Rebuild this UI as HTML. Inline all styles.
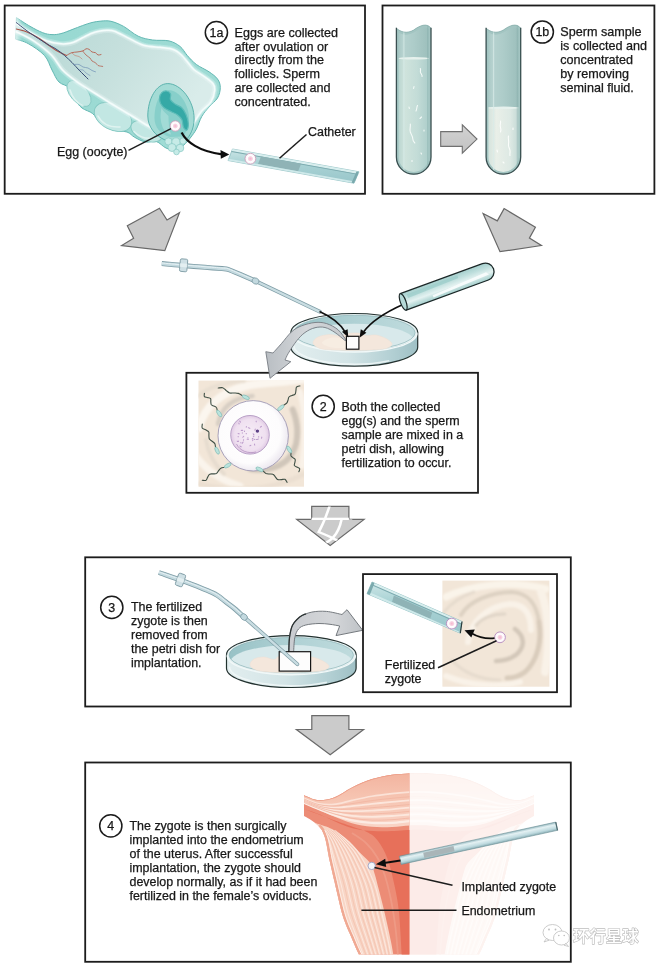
<!DOCTYPE html>
<html lang="en"><head><meta charset="utf-8"><title>In vitro fertilization</title>
<style>
html,body{margin:0;padding:0;background:#fff}
svg{display:block;font-size:12.45px}
text{font-family:"Liberation Sans","Noto Sans CJK SC",sans-serif;fill:#161616;stroke:#161616;stroke-width:0.250px}
</style></head><body>
<svg width="660" height="965" viewBox="0 0 660 965">
<defs><filter id="soft" filterUnits="userSpaceOnUse" x="0" y="0" width="660" height="965"><feGaussianBlur stdDeviation="0.350"/></filter></defs>
<rect width="660" height="965" fill="#fff"/>
<g filter="url(#soft)">
<!-- panel frames -->
<g fill="none" stroke="#1c1c1c" stroke-width="1.8">
<rect x="4.7" y="5.5" width="360.3" height="188.3"/>
<rect x="382.5" y="5.5" width="271.9" height="188.3"/>
<rect x="186.4" y="372.8" width="291.6" height="120"/>
<rect x="85.2" y="557.3" width="485.6" height="149.2"/>
<rect x="85.2" y="762.5" width="485.6" height="199.3"/>
</g>
<!-- panel 1a: ovary, egg, catheter -->
<defs>
<linearGradient id="ovFace" x1="0" y1="0" x2="1" y2="0.4">
<stop offset="0" stop-color="#b3d6d3"/><stop offset="0.55" stop-color="#c6e0dd"/><stop offset="1" stop-color="#d9ecea"/></linearGradient>
<linearGradient id="ovBand" x1="0" y1="0" x2="1" y2="0.5">
<stop offset="0" stop-color="#97d8d1"/><stop offset="1" stop-color="#9fdcd5"/></linearGradient>
<linearGradient id="cath" x1="0" y1="0" x2="0" y2="1">
<stop offset="0" stop-color="#cde6e7"/><stop offset="0.35" stop-color="#acd4d6"/><stop offset="1" stop-color="#98c6ca"/></linearGradient>
<radialGradient id="eggG" cx="0.5" cy="0.5" r="0.5"><stop offset="0" stop-color="#f4b4cd"/><stop offset="0.4" stop-color="#f9d9e6"/><stop offset="0.55" stop-color="#fff"/><stop offset="1" stop-color="#fbf0f6"/></radialGradient>
</defs>
<path d="M16.4,17.6C18.7,19.1 25.6,23.8 30,26.3C34.4,28.8 39,31.3 42.7,32.7C46.4,34.1 49,34.5 52,34.6C55,34.8 57.6,34.4 60.9,33.6C64.2,32.8 68.4,31 72,29.6C75.6,28.2 79.4,26.7 82.7,25.5C86,24.3 89,23.2 92,22.5C95,21.8 97.7,21.3 100.9,21.1C104.1,20.9 107.2,20.4 111,21.3C114.8,22.2 119.1,23.9 123.6,26.4C128.1,28.9 133.3,33.9 138.2,36.2C143,38.5 147.6,39.2 152.7,40C157.8,40.8 164.4,39.8 169,40.9C173.6,42 176.9,44 180,46.4C183.1,48.8 184.6,52.5 187.3,55.5C190,58.5 192.8,61.8 196.4,64.5C200,67.2 205.5,69.4 209,71.8C212.5,74.2 215.6,76.4 217.5,79C219.4,81.6 220.3,84.3 220.3,87.5C220.3,90.7 219.4,94.8 217.5,98C215.6,101.2 211.6,103.9 209,107C206.4,110.1 203.9,112.7 201.8,116.4C199.7,120.1 198.2,125.6 196.4,129C194.6,132.4 192.9,134.5 191,137C189.1,139.5 187.5,141.8 185,144C182.5,146.2 179.2,149.3 176,150C172.8,150.7 169.3,149.4 166,148C162.7,146.6 159.8,142.5 156.4,141.5C153,140.5 149.2,142.7 145.5,142C141.8,141.3 137.6,138.9 134.5,137.2C131.4,135.5 130.6,133.2 127,132C123.4,130.8 117.2,131.6 112.7,130C108.2,128.4 103.3,125.4 100,122.7C96.7,120 95.7,116 92.7,113.6C89.7,111.1 85,110.4 82,108C79,105.6 76.5,102.3 74.5,99C72.5,95.7 72.6,90.8 70,88C67.4,85.2 62,85 59,82C56,79 54.4,74.4 52,70C49.6,65.6 48.5,59.9 44.5,55.5C40.5,51.1 33,46.3 28.2,43.6C23.4,40.9 17.6,39.9 15.5,39.1Z" fill="url(#ovBand)" stroke="#62b7b2" stroke-width="1" stroke-linejoin="round"/>
<g fill="#c2e7e3" stroke="#84c8c2" stroke-width="0.900">
<ellipse cx="79" cy="93.500" rx="15.500" ry="8.500" transform="rotate(48 79 93.500)"/>
<ellipse cx="113" cy="117" rx="20" ry="12.800" transform="rotate(27 113 117)"/>
<ellipse cx="146.500" cy="131.300" rx="16.500" ry="9.300" transform="rotate(24 146.500 131.300)"/>
</g>
<g fill="none" stroke="#e9f7f5" stroke-width="1.600" opacity="0.750" stroke-linecap="round">
<path d="M98,116C102,124 110,127.500 120,127"/>
<path d="M134,131.500C139,137 147,139 154,138"/>
<path d="M70,90C72,97 77,103 83,106"/>
</g>
<path d="M16.4,23.6C18.3,24.8 24.2,28.7 28,31C31.8,33.3 35.5,35.5 39,37.3C42.5,39 45.7,40.5 49,41.5C52.3,42.5 56.2,43.2 59,43.6C61.8,44 63.6,44 66,43.8C68.4,43.6 70.9,43.2 73.6,42.2C76.3,41.2 79,39.5 82,38C85,36.5 88.8,34.5 91.8,33.3C94.8,32.1 97.5,31.5 100,31C102.5,30.5 104.6,30.3 107,30.3C109.4,30.3 111.2,30 114.5,31.2C117.8,32.4 122.2,34.9 127,37.3C131.8,39.6 138.1,43.6 143.6,45.3C149.1,47 155.6,46.8 160,47.3C164.4,47.8 167.3,47.9 170,48.5C172.7,49.1 174.5,49.9 176.4,51C178.3,52.1 180,53.6 181.5,55C183,56.4 184.1,57.8 185.5,59.5C186.9,61.2 188.5,63.2 190,65C191.5,66.8 191.9,68 194.5,70C197.1,72 202.4,75 205.5,77.3C208.6,79.5 211.4,81.4 213,83.5C214.6,85.6 215.1,87 214.8,90C214.5,93 213.2,98.3 211,101.8C208.8,105.3 204.6,107.7 201.8,111C199.1,114.3 196.5,118.5 194.5,121.8C192.5,125.1 193.8,128.1 190,131C186.2,133.9 177.6,139.1 172,139C166.4,138.9 160.8,132.9 156.4,130.5C152,128.1 149.7,127 145.5,124.5C141.3,122 136.5,118.8 131,115.5C125.5,112.2 118.8,108.2 112.7,104.5C106.6,100.8 100.5,96.8 94.5,93C88.5,89.2 82.3,85.6 77,81.8C71.7,78 66.7,74.4 62.5,70C58.3,65.6 56.6,60.4 51.8,55.5C47,50.6 39.5,44.9 33.6,40.9C27.7,36.9 19.3,33.3 16.4,31.8Z" fill="url(#ovFace)"/>
<path d="M16.4,23.6C18.3,24.8 24.2,28.7 28,31C31.8,33.3 35.5,35.5 39,37.3C42.5,39 45.7,40.5 49,41.5C52.3,42.5 56.2,43.2 59,43.6C61.8,44 63.6,44 66,43.8C68.4,43.6 70.9,43.2 73.6,42.2C76.3,41.2 79,39.5 82,38C85,36.5 88.8,34.5 91.8,33.3C94.8,32.1 97.5,31.5 100,31C102.5,30.5 104.6,30.3 107,30.3C109.4,30.3 111.2,30 114.5,31.2C117.8,32.4 122.2,34.9 127,37.3C131.8,39.6 138.1,43.6 143.6,45.3C149.1,47 155.6,46.8 160,47.3C164.4,47.8 167.3,47.9 170,48.5C172.7,49.1 174.5,49.9 176.4,51C178.3,52.1 180,53.6 181.5,55C183,56.4 184.1,57.8 185.5,59.5C186.9,61.2 188.5,63.2 190,65C191.5,66.8 191.9,68 194.5,70C197.1,72 202.4,75 205.5,77.3C208.6,79.5 211.4,81.4 213,83.5C214.6,85.6 215.1,87 214.8,90C214.5,93 213.2,98.3 211,101.8C208.8,105.3 204.6,107.7 201.8,111C199.1,114.3 196.5,118.5 194.5,121.8C192.5,125.1 190.8,129.5 190,131" fill="none" stroke="#f2fbfa" stroke-width="5.500" stroke-linecap="round" opacity="0.280"/>
<path d="M16.4,23.6C18.3,24.8 24.2,28.7 28,31C31.8,33.3 35.5,35.5 39,37.3C42.5,39 45.7,40.5 49,41.5C52.3,42.5 56.2,43.2 59,43.6C61.8,44 63.6,44 66,43.8C68.4,43.6 70.9,43.2 73.6,42.2C76.3,41.2 79,39.5 82,38C85,36.5 88.8,34.5 91.8,33.3C94.8,32.1 97.5,31.5 100,31C102.5,30.5 104.6,30.3 107,30.3C109.4,30.3 111.2,30 114.5,31.2C117.8,32.4 122.2,34.9 127,37.3C131.8,39.6 138.1,43.6 143.6,45.3C149.1,47 155.6,46.8 160,47.3C164.4,47.8 167.3,47.9 170,48.5C172.7,49.1 174.5,49.9 176.4,51C178.3,52.1 180,53.6 181.5,55C183,56.4 184.1,57.8 185.5,59.5C186.9,61.2 188.5,63.2 190,65C191.5,66.8 191.9,68 194.5,70C197.1,72 202.4,75 205.5,77.3C208.6,79.5 211.4,81.4 213,83.5C214.6,85.6 215.1,87 214.8,90C214.5,93 213.2,98.3 211,101.8C208.8,105.3 204.6,107.7 201.8,111C199.1,114.3 196.5,118.5 194.5,121.8C192.5,125.1 190.8,129.5 190,131" fill="none" stroke="#f2fbfa" stroke-width="3" stroke-linecap="round" opacity="0.400"/>
<path d="M16.4,23.6C18.3,24.8 24.2,28.7 28,31C31.8,33.3 35.5,35.5 39,37.3C42.5,39 45.7,40.5 49,41.5C52.3,42.5 56.2,43.2 59,43.6C61.8,44 63.6,44 66,43.8C68.4,43.6 70.9,43.2 73.6,42.2C76.3,41.2 79,39.5 82,38C85,36.5 88.8,34.5 91.8,33.3C94.8,32.1 97.5,31.5 100,31C102.5,30.5 104.6,30.3 107,30.3C109.4,30.3 111.2,30 114.5,31.2C117.8,32.4 122.2,34.9 127,37.3C131.8,39.6 138.1,43.6 143.6,45.3C149.1,47 155.6,46.8 160,47.3C164.4,47.8 167.3,47.9 170,48.5C172.7,49.1 174.5,49.9 176.4,51C178.3,52.1 180,53.6 181.5,55C183,56.4 184.1,57.8 185.5,59.5C186.9,61.2 188.5,63.2 190,65C191.5,66.8 191.9,68 194.5,70C197.1,72 202.4,75 205.5,77.3C208.6,79.5 211.4,81.4 213,83.5C214.6,85.6 215.1,87 214.8,90C214.5,93 213.2,98.3 211,101.8C208.8,105.3 204.6,107.7 201.8,111C199.1,114.3 196.5,118.5 194.5,121.8C192.5,125.1 190.8,129.5 190,131" fill="none" stroke="#f4fcfb" stroke-width="1.500" stroke-linecap="round"/>
<path d="M172,139C169.4,137.6 160.8,132.9 156.4,130.5C152,128.1 149.7,127 145.5,124.5C141.3,122 136.5,118.8 131,115.5C125.5,112.2 118.8,108.2 112.7,104.5C106.6,100.8 100.5,96.8 94.5,93C88.5,89.2 82.3,85.6 77,81.8C71.7,78 66.7,74.4 62.5,70C58.3,65.6 56.6,60.4 51.8,55.5C47,50.6 39.5,44.9 33.6,40.9C27.7,36.9 19.3,33.3 16.4,31.8" fill="none" stroke="#f2fbfa" stroke-width="5.500" stroke-linecap="round" opacity="0.280"/>
<path d="M172,139C169.4,137.6 160.8,132.9 156.4,130.5C152,128.1 149.7,127 145.5,124.5C141.3,122 136.5,118.8 131,115.5C125.5,112.2 118.8,108.2 112.7,104.5C106.6,100.8 100.5,96.8 94.5,93C88.5,89.2 82.3,85.6 77,81.8C71.7,78 66.7,74.4 62.5,70C58.3,65.6 56.6,60.4 51.8,55.5C47,50.6 39.5,44.9 33.6,40.9C27.7,36.9 19.3,33.3 16.4,31.8" fill="none" stroke="#f2fbfa" stroke-width="3" stroke-linecap="round" opacity="0.400"/>
<path d="M172,139C169.4,137.6 160.8,132.9 156.4,130.5C152,128.1 149.7,127 145.5,124.5C141.3,122 136.5,118.8 131,115.5C125.5,112.2 118.8,108.2 112.7,104.5C106.6,100.8 100.5,96.8 94.5,93C88.5,89.2 82.3,85.6 77,81.8C71.7,78 66.7,74.4 62.5,70C58.3,65.6 56.6,60.4 51.8,55.5C47,50.6 39.5,44.9 33.6,40.9C27.7,36.9 19.3,33.3 16.4,31.8" fill="none" stroke="#f4fcfb" stroke-width="1.500" stroke-linecap="round"/>
<linearGradient id="stalkFade" x1="0" y1="0" x2="1" y2="0"><stop offset="0" stop-color="#fff" stop-opacity="0.9"/><stop offset="1" stop-color="#fff" stop-opacity="0"/></linearGradient>
<rect x="13" y="14" width="9" height="30" fill="url(#stalkFade)"/>
<g fill="none" stroke-linecap="round" stroke-linejoin="round">
<path d="M16.4,29C18.2,29.5 23.5,30.6 27,32C30.5,33.4 34,35.3 37.3,37.3C40.6,39.3 43.7,41.7 47,44C50.3,46.3 54.1,49.1 57.3,51C60.5,52.9 64.9,54.8 66.4,55.5" stroke="#a9554a" stroke-width="1.2"/>
<path d="M66.4,55.5C67.3,55 70,53.3 71.8,52.7C73.6,52.1 75.2,52.3 77,52C78.8,51.7 81.2,51.5 82.7,51C84.2,50.5 85,49.1 86,48.8C87,48.5 88,48.8 89,49.3C90,49.8 90.9,51.4 92,52C93.1,52.6 94.5,52.2 95.5,52.7C96.5,53.2 97.1,54.7 98,55C98.9,55.3 100.5,54.6 101,54.5" stroke="#b5604f" stroke-width="0.9"/>
<path d="M82.7,51C83.2,51.7 84.8,53.8 86,55C87.2,56.2 89,57 90,58C91,59 91.1,60.2 92,61C92.9,61.8 94.5,62 95.5,62.7C96.5,63.5 96.8,64.9 98,65.5C99.2,66.1 101.9,66.2 102.7,66.4" stroke="#b5604f" stroke-width="0.8"/>
<path d="M71.8,52.7C72.3,53.2 73.8,54.9 75,55.5C76.2,56.1 77.8,55.9 79,56.5C80.2,57.1 81.5,58.6 82,59" stroke="#c27a68" stroke-width="0.6"/>
<path d="M16.4,22.7C18.7,24.4 25,29.5 30,33C35,36.5 42.1,40.9 46.4,43.6C50.7,46.3 53,47 56,49C59,51 61.8,53.2 64.5,55.5C67.2,57.8 69.6,60.1 72,62.5C74.4,64.9 77,67.9 79,70C81,72.1 82.5,73.5 84,75C85.5,76.5 87.3,78.3 88,79" stroke="#364a72" stroke-width="1"/>
<path d="M74,64.5C74.8,64.5 77.5,64.1 79,64.5C80.5,64.9 81.5,66.4 83,67C84.5,67.6 86.5,67.4 88,68C89.5,68.6 90.8,69.9 92,70.5C93.2,71.1 94.9,71.6 95.5,71.8" stroke="#6f8fb5" stroke-width="0.7"/>
<path d="M79,70C79.7,70 81.8,69.5 83,70C84.2,70.5 84.8,72.1 86,73C87.2,73.9 89.3,75.1 90,75.5" stroke="#6f8fb5" stroke-width="0.6"/>
</g>
<path d="M147.800,116C147.800,99 156.300,83.600 167.800,83.600C181,83.600 194.300,101 194.100,119C194,129 190,136 185.500,140.500L178,143L165,140C155,135.500 147.900,127 147.800,116Z" fill="#a3dbd5" stroke="#5cb3ae" stroke-width="1"/>
<path d="M154.5,118C154.5,103 160.5,90 168.5,90C179,90 189,104 189,119C189,127 186,133 182.5,136.5L170,137C160,134 154.5,127 154.5,118Z" fill="#7ecbc5" opacity="0.75"/>
<path d="M161.8,92.7C162.9,91.6 164.9,90.8 166.4,91C167.9,91.2 169.9,92.6 170.6,94C171.3,95.4 169.6,97.8 170.4,99.5C171.2,101.2 173.7,103 175.5,104.3C177.3,105.6 179.8,105.8 181.5,107.5C183.2,109.2 184.9,111.8 186,114.5C187.1,117.2 188.2,120.9 188.3,123.5C188.4,126.1 187.6,129.4 186.8,130C186,130.6 184.2,128.8 183.4,127C182.6,125.2 182.9,121.6 181.8,119.5C180.7,117.4 178.8,115.8 177,114.5C175.2,113.2 173,112.5 171,111.5C169,110.5 166.5,109.6 164.8,108.3C163.1,107 161.5,105.3 160.6,103.5C159.7,101.7 159.4,99.3 159.6,97.5C159.8,95.7 160.7,93.8 161.8,92.7Z" fill="#35a9a6" stroke="#5dbcb8" stroke-width="1.2"/>
<path d="M161.5,108C160,114 160,121 162.500,127C164,131 168,134 171,134.500C169,129 168.500,122 168.500,116C166,113.500 163,111 161.500,108Z" fill="#a9ddd8" opacity="0.8"/>
<g fill="#c6ebe7" stroke="#8fcdc8" stroke-width="0.8">
<circle cx="168.5" cy="141.5" r="3.6"/>
<circle cx="176" cy="142" r="4.2"/>
<circle cx="183" cy="141" r="3.2"/>
<circle cx="172" cy="147.5" r="4"/>
<circle cx="180" cy="148" r="3.8"/>
<circle cx="176.5" cy="152" r="2.8"/>
</g>
<circle cx="175.3" cy="126" r="5.2" fill="url(#eggG)" stroke="#c79ab6" stroke-width="0.8"/>
<path d="M128.5,150.300L171,128.700" stroke="#1c1c1c" stroke-width="1.500" fill="none"/>
<text x="57" y="155.500">Egg (oocyte)</text>
<path d="M181.600,132.500C186.500,142 199,151.500 222,154.300" stroke="#111" stroke-width="2.2" fill="none"/>
<polygon points="229.300,154.600 220.500,150 220.800,158.700" fill="#111"/>
<polygon points="232.500,149 359,171.800 354,183.200 228,160.500" fill="url(#cath)" stroke="#7fb4b8" stroke-width="0.700"/>
<polygon points="232.500,149 359,171.800 358.200,173.900 231.700,151.100" fill="#d8eeee"/>
<polygon points="231.700,151.100 358.200,173.900 357.900,174.800 231.400,152" fill="#7ba9ae"/>
<polygon points="261,156.600 301.100,163.800 298.100,171.300 258,164" fill="#8fb3b6"/>
<polygon points="228.700,158.700 355,181.500 354,183.200 228,160.500" fill="#cfe9ea"/>
<polygon points="356.500,171.400 359,171.800 354,183.200 351.500,182.800" fill="#7aa9ad"/>
<circle cx="250.400" cy="158.700" r="5.400" fill="url(#eggG)" stroke="#c79ab6" stroke-width="0.8"/>
<path d="M306.500,134.500L279.500,158.300" stroke="#1c1c1c" stroke-width="1.500" fill="none"/>
<text x="308" y="136.300">Catheter</text>
<circle cx="216.4" cy="32.6" r="11.1" fill="#fff" stroke="#1a1a1a" stroke-width="1.5"/><text x="216.4" y="37" text-anchor="middle">1a</text>
<g style="font-size:12.600px">
<text x="234.5" y="36.8">Eggs are collected</text>
<text x="234.5" y="50.5">after ovulation or</text>
<text x="234.5" y="64.3">directly from the</text>
<text x="234.5" y="78">follicles. Sperm</text>
<text x="234.5" y="91.8">are collected and</text>
<text x="234.5" y="105.5">concentrated.</text>
</g>
<!-- panel 1b: sperm sample tubes -->
<defs>
<linearGradient id="tubeG" x1="0" y1="0" x2="1" y2="0">
<stop offset="0" stop-color="#a1c2bf"/><stop offset="0.18" stop-color="#b6d2cf"/><stop offset="0.5" stop-color="#adccc9"/><stop offset="1" stop-color="#9abdba"/></linearGradient>
<linearGradient id="liq1" x1="0" y1="0" x2="1" y2="0">
<stop offset="0" stop-color="#b4d2cd"/><stop offset="0.25" stop-color="#cfe3dc"/><stop offset="0.6" stop-color="#c3dcd7"/><stop offset="1" stop-color="#a9cbc8"/></linearGradient>
<linearGradient id="liq2" x1="0" y1="0" x2="1" y2="0">
<stop offset="0" stop-color="#cfe0da"/><stop offset="0.3" stop-color="#e9efe8"/><stop offset="0.7" stop-color="#dde9e4"/><stop offset="1" stop-color="#bdd5d1"/></linearGradient>
<linearGradient id="arrG" x1="0" y1="0" x2="0" y2="1"><stop offset="0" stop-color="#d2d2d2"/><stop offset="1" stop-color="#c2c2c2"/></linearGradient>
</defs>
<clipPath id="t1"><path d="M396.4,28.200C400.6,32 406.8,34 413.7,30C419.9,25.500 426.8,22.500 431,28.200L431,156.9A17.3,17.3 0 0 1 396.4,156.9Z"/></clipPath><path d="M396.4,28.200C400.6,32 406.8,34 413.7,30C419.9,25.500 426.8,22.500 431,28.200L431,156.9A17.3,17.3 0 0 1 396.4,156.9Z" fill="url(#tubeG)"/><g clip-path="url(#t1)"><rect x="396.4" y="57.8" width="34.6" height="122.2" fill="url(#liq1)"/><ellipse cx="413.7" cy="58.3" rx="15.8" ry="1.300" fill="#e6f1ed"/><path d="M396.4,28.200C400.6,32 406.8,34 413.7,30C419.9,25.500 426.8,22.500 431,28.200L431,156.9A17.3,17.3 0 0 1 396.4,156.9Z" fill="none" stroke="#a3c5c2" stroke-width="4.600"/><rect x="403.3" y="24" width="1.200" height="150" fill="#d9ebe8" opacity="0.7"/><rect x="427" y="24" width="1.500" height="150" fill="#7fa9a7" opacity="0.35"/></g><path d="M396.4,28.200C400.6,32 406.8,34 413.7,30C419.9,25.500 426.8,22.500 431,28.200" fill="none" stroke="#86aeab" stroke-width="0.700"/><path d="M396.4,27.800L396.4,156.9A17.3,17.3 0 0 0 431,156.9L431,27.800" fill="none" stroke="#3a5051" stroke-width="1.300"/>
<clipPath id="t2"><path d="M486.1,28.200C490.3,32 496.5,34 503.4,30C509.6,25.500 516.5,22.500 520.7,28.200L520.7,156.9A17.3,17.3 0 0 1 486.1,156.9Z"/></clipPath><path d="M486.1,28.200C490.3,32 496.5,34 503.4,30C509.6,25.500 516.5,22.500 520.7,28.200L520.7,156.9A17.3,17.3 0 0 1 486.1,156.9Z" fill="url(#tubeG)"/><g clip-path="url(#t2)"><rect x="486.1" y="107.3" width="34.6" height="72.7" fill="url(#liq2)"/><ellipse cx="503.4" cy="107.8" rx="15.8" ry="1.300" fill="#e6f1ed"/><path d="M486.1,28.200C490.3,32 496.5,34 503.4,30C509.6,25.500 516.5,22.500 520.7,28.200L520.7,156.9A17.3,17.3 0 0 1 486.1,156.9Z" fill="none" stroke="#a3c5c2" stroke-width="4.600"/><rect x="493" y="24" width="1.200" height="150" fill="#d9ebe8" opacity="0.7"/><rect x="516.7" y="24" width="1.500" height="150" fill="#7fa9a7" opacity="0.35"/></g><path d="M486.1,28.200C490.3,32 496.5,34 503.4,30C509.6,25.500 516.5,22.500 520.7,28.200" fill="none" stroke="#86aeab" stroke-width="0.700"/><path d="M486.1,27.800L486.1,156.9A17.3,17.3 0 0 0 520.7,156.9L520.7,27.800" fill="none" stroke="#3a5051" stroke-width="1.300"/>
<g fill="none" stroke="#f4faf8" stroke-width="1.100" stroke-linecap="round">
<path d="M420.300,68.500c0.800,1.500 -0.600,3 0.400,4.500c0.800,1.300 1.600,2 1.400,3.500"/>
<path d="M414,86.500l-0.400,2"/><path d="M409,107l0.300,1.500"/><path d="M417.500,105.500c-1,2 -0.500,3.500 -1.500,5.500"/>
<path d="M410.300,124c0.500,3 -1,5 0,8c0.800,2.500 2.500,4 2.500,7c0,2 1,3 2,4"/>
<path d="M420,118.500l1.500,-1.500"/><path d="M424,130l0,1"/><path d="M412,160.500l0,1"/><path d="M421,153l0.500,1"/>
</g>
<g fill="none" stroke="#fbfdfb" stroke-width="1.100" stroke-linecap="round">
<path d="M500.500,121c0.500,2.500 -1,4 0,6.500c0.600,1.600 0.500,3 0,4.500"/>
<path d="M508.500,136c-0.800,3 0.800,5 0,8c-0.600,2.500 1,4 1.500,6.500c0.400,2 -0.500,3.500 0,5"/>
<path d="M497,150l0.500,2"/><path d="M513,128l0,1.500"/><path d="M503,162l1,1"/>
</g>
<polygon points="440.700,131.600 462.300,131.600 462.300,124.800 477,139.100 462.300,153.200 462.300,146.400 440.700,146.400" fill="url(#arrG)" stroke="#6f6f6f" stroke-width="1.100" stroke-linejoin="miter"/>
<circle cx="542.3" cy="32" r="11.1" fill="#fff" stroke="#1a1a1a" stroke-width="1.5"/><text x="542.3" y="36.4" text-anchor="middle">1b</text>
<g style="font-size:12.600px">
<text x="560.3" y="36.1">Sperm sample</text>
<text x="560.3" y="50.2">is collected and</text>
<text x="560.3" y="64.2">concentrated</text>
<text x="560.3" y="78.2">by removing</text>
<text x="560.3" y="92.3">seminal fluid.</text>
</g>
<!-- middle: arrows, pipette, sperm tube, petri dish -->
<polygon points="159.500,208.200 167,220 179.500,212.700 164.800,250.700 121.600,245.500 133.600,238.200 127.300,225.700" fill="#c9c9c9" stroke="#686868" stroke-width="1.200" stroke-linejoin="miter"/>
<polygon points="483.100,213.500 497.300,220.900 504.100,208.600 535.400,227.200 529.400,238.100 541.400,245.500 500,251.700" fill="#c9c9c9" stroke="#686868" stroke-width="1.200" stroke-linejoin="miter"/>
<defs><linearGradient id="d1W" x1="0" y1="0" x2="1" y2="0"><stop offset="0" stop-color="#e2eeef"/><stop offset="0.450" stop-color="#d3e4e6"/><stop offset="0.800" stop-color="#b2cfd3"/><stop offset="1" stop-color="#9fc0c5"/></linearGradient>
<linearGradient id="d1I" x1="0" y1="0" x2="1" y2="0"><stop offset="0" stop-color="#98c2c6"/><stop offset="0.500" stop-color="#afd1d4"/><stop offset="1" stop-color="#bfdbdd"/></linearGradient>
<clipPath id="d1C"><ellipse cx="354.3" cy="332.7" rx="60.8" ry="17.4"/></clipPath></defs><path d="M290.9,332.4L290.9,347.2A63.4,18.9 0 0 0 417.7,347.2L417.7,332.4Z" fill="url(#d1W)" stroke="#22302f" stroke-width="1.200" stroke-linejoin="round"/><path d="M293.9,345.7A60.4,18.4 0 0 0 389.2,360.8" fill="none" stroke="#f3f9f9" stroke-width="1.600" opacity="0.800"/><ellipse cx="354.3" cy="332.4" rx="63.4" ry="18.9" fill="#e6f1f2"/><path d="M290.9,332.4A63.4,18.9 0 0 1 417.7,332.4" fill="none" stroke="#22302f" stroke-width="1.200"/><path d="M291.7,333.4A62.6,18.6 0 0 0 416.9,333.4" fill="none" stroke="#f1f8f8" stroke-width="1.400"/><ellipse cx="354.3" cy="332.7" rx="60.8" ry="17.4" fill="url(#d1I)"/><ellipse cx="354.3" cy="341.6" rx="60.4" ry="17.9" fill="#d8e9eb" clip-path="url(#d1C)"/><ellipse cx="354.3" cy="332.7" rx="60.8" ry="17.4" fill="none" stroke="#88b0b4" stroke-width="0.600"/>
<path d="M313,343C312.7,341.1 315.2,338.4 318,337C320.8,335.6 326.3,334.7 330,334.5C333.7,334.3 337.2,336.2 340,336C342.8,335.8 344,334 347,333.5C350,333 354.8,332.7 358,333C361.2,333.3 363,335.2 366,335.5C369,335.8 372.7,334.5 376,335C379.3,335.5 383.3,337 386,338.5C388.7,340 392,342.3 392,344C392,345.7 389.7,347.5 386,348.5C382.3,349.5 375.7,349.7 370,350C364.3,350.3 358,350.5 352,350.5C346,350.5 339.3,350.3 334,350C328.7,349.7 323.5,349.7 320,348.5C316.5,347.3 313.3,344.9 313,343Z" fill="#f4e7dc" stroke="#efdfd2" stroke-width="0.500"/>
<path d="M322,343C321.7,341.4 326.7,338.8 330,338C333.3,337.2 338.7,337.8 342,338.5C345.3,339.2 349.3,340.5 350,342C350.7,343.5 349,346.6 346,347.5C343,348.4 336,348.2 332,347.5C328,346.8 322.3,344.6 322,343Z" fill="#f7ede2"/>
<defs><linearGradient id="cArr" x1="0" y1="0" x2="1" y2="0"><stop offset="0" stop-color="#b9bec3"/><stop offset="0.5" stop-color="#d4d7da"/><stop offset="1" stop-color="#c3c7cb"/></linearGradient></defs>
<path d="M346.7,340.8C345.3,339 341.6,332.9 338.3,330C335,327.1 330.6,324.9 326.7,323.6C322.8,322.4 319.2,322.1 315,322.5C310.8,322.9 305.6,324.3 301.7,325.8C297.8,327.3 295,328.8 291.7,331.7C288.4,334.6 284.8,339.8 281.7,343.3C278.6,346.9 274.4,351.4 273,353L265.800,351.700L270,378.300L290.800,361.700L285,360C285.6,358.9 286.4,356.5 288.3,353.3C290.2,350.1 293.9,344.3 296.7,340.8C299.5,337.3 301.9,334.7 305,332.5C308.1,330.3 311.7,328.5 315,327.7C318.3,326.9 321.7,326.7 325,327.5C328.3,328.3 331.7,330.3 335,332.5C338.3,334.7 343.3,339.2 345,340.5Z" fill="url(#cArr)" stroke="#767c82" stroke-width="0.900" stroke-linejoin="round"/>
<rect x="346.400" y="336.300" width="12.500" height="12.900" fill="#fdfdfd" stroke="#161616" stroke-width="1.200"/>
<path d="M161.8,263.6C164.3,263.8 178,265.2 183,265.6C188,266 200.4,266.9 205,267.3C209.6,267.7 219.3,268.4 222,268.6C224.7,268.8 225.9,268.6 228,269.3C230.1,270 236.8,272.9 240,274.3C243.2,275.7 253.7,280.2 255.5,281" fill="none" stroke="#7f9da6" stroke-width="5" stroke-linecap="butt" stroke-linejoin="round"/><path d="M161.8,263.6C164.3,263.8 178,265.2 183,265.6C188,266 200.4,266.9 205,267.3C209.6,267.7 219.3,268.4 222,268.6C224.7,268.8 225.9,268.6 228,269.3C230.1,270 236.8,272.9 240,274.3C243.2,275.7 253.7,280.2 255.5,281" fill="none" stroke="#c3d9df" stroke-width="3.400" stroke-linecap="butt" stroke-linejoin="round"/><path d="M161.8,263.6C164.3,263.8 178,265.2 183,265.6C188,266 200.4,266.9 205,267.3C209.6,267.7 219.3,268.4 222,268.6C224.7,268.8 225.9,268.6 228,269.3C230.1,270 236.8,272.9 240,274.3C243.2,275.7 253.7,280.2 255.5,281" fill="none" stroke="#e6f1f4" stroke-width="1" stroke-linecap="butt" stroke-linejoin="round" transform="translate(0,-0.600)"/><path d="M255.5,281L320,311.8" fill="none" stroke="#7f9da6" stroke-width="3.800" stroke-linecap="round"/><path d="M255.5,281L320,311.8" fill="none" stroke="#c9dde2" stroke-width="2.400" stroke-linecap="round"/><ellipse cx="255.5" cy="281" rx="3.600" ry="3" transform="rotate(25 255.5 281)" fill="#c3d9df" stroke="#7f9da6" stroke-width="0.800"/><g transform="rotate(5 183.6 265.3)"><rect x="179.9" y="259" width="7.400" height="12.600" rx="1.500" fill="#cfe0e5" stroke="#7f9da6" stroke-width="0.900"/><rect x="179.9" y="263.5" width="7.400" height="3.600" fill="#e9f2f4" opacity="0.800"/></g>
<path d="M319.500,311.600C333,317.500 341,325 345.500,332.500" fill="none" stroke="#111" stroke-width="1.600"/>
<polygon points="348.300,337.600 342,331.800 347.600,329.200" fill="#111"/>
<path d="M403.500,304.200C386,312 371,321.500 363.500,332" fill="none" stroke="#111" stroke-width="1.600"/>
<polygon points="359.500,337.800 360.800,329.200 366.400,332.800" fill="#111"/>
<defs><linearGradient id="stube" x1="0" y1="0" x2="0" y2="1"><stop offset="0" stop-color="#a5cfcd"/><stop offset="0.300" stop-color="#bfdfdd"/><stop offset="0.620" stop-color="#e4f2f1"/><stop offset="0.800" stop-color="#c3e0de"/><stop offset="1" stop-color="#a5cfcd"/></linearGradient></defs>
<g transform="translate(403.200,301.900) rotate(-20.100)">
<path d="M0,-8.700L87.500,-8.700A8.700,8.700 0 0 1 87.500,8.700L0,8.700Z" fill="url(#stube)" stroke="#1b2828" stroke-width="1.300"/>
<path d="M30,3.800L88,0.500L90,3.800L30,6.300Z" fill="#f8fcfc" opacity="0.950"/><path d="M6,-6L60,-6.500L60,-3.500L6,-2Z" fill="#9accc9" opacity="0.700"/>
<ellipse cx="0" cy="0" rx="2.800" ry="8.700" fill="#b5d9d7" stroke="#1b2828" stroke-width="1.200"/>
</g>
<!-- panel 2: egg with sperm -->
<defs><clipPath id="b2c"><rect x="198.500" y="380.600" width="105.500" height="106.100"/></clipPath>
<radialGradient id="zona" cx="0.450" cy="0.450" r="0.550"><stop offset="0" stop-color="#fff"/><stop offset="0.800" stop-color="#fdfcfd"/><stop offset="1" stop-color="#eeeaf1"/></radialGradient>
<radialGradient id="nucl" cx="0.500" cy="0.500" r="0.500"><stop offset="0" stop-color="#f7eef7"/><stop offset="0.800" stop-color="#efe0f0"/><stop offset="1" stop-color="#e0cae4"/></radialGradient>
<filter id="bl2" x="-20%" y="-20%" width="140%" height="140%"><feGaussianBlur stdDeviation="1.300"/></filter>
<filter id="bl1" x="-20%" y="-20%" width="140%" height="140%"><feGaussianBlur stdDeviation="0.800"/></filter>
</defs>
<rect x="198.500" y="380.600" width="105.500" height="106.100" fill="#f2e6d8"/>
<g clip-path="url(#b2c)">
<g filter="url(#bl2)" fill="none" stroke-linecap="round">
<path d="M199,428C204,406 222,392 246,386C262,382 282,383 304,379" stroke="#fbf6ef" stroke-width="8"/>
<path d="M198,396C210,386 226,382 244,381" stroke="#e9dfd2" stroke-width="4"/>
<path d="M196,456C206,470 220,480 240,486" stroke="#faf4ec" stroke-width="7"/>
<path d="M300,392C306,410 306,440 302,466" stroke="#f9f2e9" stroke-width="6"/>
<path d="M200,484C230,492 270,492 304,474" stroke="#ebdfd1" stroke-width="5"/>
<path d="M292.600,409.400C297,420 298.500,432 296,444C292,458 284,465 270,468.500C262,470 256,470 250,469" stroke="#d0c6ba" stroke-width="6"/>
<path d="M218,424C221,408 232,398 252.500,396" stroke="#d8cfc4" stroke-width="4.500"/>
<path d="M206,440C208,452 214,464 224,474" stroke="#e6dccf" stroke-width="4"/>
</g>
</g>
<circle cx="253.200" cy="435.800" r="35.200" fill="url(#zona)" stroke="#9f98b4" stroke-width="0.900"/>
<circle cx="250" cy="434.800" r="19.300" fill="url(#nucl)" stroke="#b298c2" stroke-width="0.900"/>
<path d="M236.500,444C240,451 248,454 256,452" fill="none" stroke="#b592c2" stroke-width="0.800"/>
<circle cx="257.400" cy="431.100" r="1.700" fill="#5b3f86"/>
<g fill="#bb9aca">
<ellipse cx="247.7" cy="439.3" rx="1.2" ry="0.550" transform="rotate(13 247.7 439.3)"/>
<ellipse cx="242.3" cy="433" rx="0.7" ry="0.550" transform="rotate(91.3 242.3 433)"/>
<ellipse cx="258.6" cy="436.9" rx="0.7" ry="0.550" transform="rotate(16.3 258.6 436.9)"/>
<ellipse cx="237.4" cy="441.3" rx="0.8" ry="0.550" transform="rotate(40.2 237.4 441.3)"/>
<ellipse cx="239" cy="423.5" rx="1.1" ry="0.550" transform="rotate(71.4 239 423.5)"/>
<ellipse cx="253.6" cy="434.3" rx="1.3" ry="0.550" transform="rotate(52.1 253.6 434.3)"/>
<ellipse cx="252.8" cy="438.4" rx="0.9" ry="0.550" transform="rotate(146.9 252.8 438.4)"/>
<ellipse cx="254.6" cy="444.6" rx="1.1" ry="0.550" transform="rotate(67 254.6 444.6)"/>
<ellipse cx="246.3" cy="433.7" rx="0.7" ry="0.550" transform="rotate(37.1 246.3 433.7)"/>
<ellipse cx="246.3" cy="426.9" rx="0.9" ry="0.550" transform="rotate(105.4 246.3 426.9)"/>
<ellipse cx="243.3" cy="436.8" rx="1.3" ry="0.550" transform="rotate(125.8 243.3 436.8)"/>
<ellipse cx="250.4" cy="445.5" rx="1.1" ry="0.550" transform="rotate(157.5 250.4 445.5)"/>
<ellipse cx="249.1" cy="428" rx="1.4" ry="0.550" transform="rotate(21.3 249.1 428)"/>
<ellipse cx="238.5" cy="441.3" rx="0.8" ry="0.550" transform="rotate(88 238.5 441.3)"/>
<ellipse cx="261.7" cy="437.7" rx="1.2" ry="0.550" transform="rotate(103.1 261.7 437.7)"/>
<ellipse cx="255.1" cy="429.7" rx="1.2" ry="0.550" transform="rotate(107 255.1 429.7)"/>
<ellipse cx="242" cy="430.4" rx="1.3" ry="0.550" transform="rotate(170 242 430.4)"/>
<ellipse cx="238.2" cy="436.7" rx="0.7" ry="0.550" transform="rotate(126.3 238.2 436.7)"/>
<ellipse cx="240.1" cy="421.7" rx="1.3" ry="0.550" transform="rotate(51.2 240.1 421.7)"/>
<ellipse cx="240.9" cy="442.7" rx="0.7" ry="0.550" transform="rotate(83.1 240.9 442.7)"/>
<ellipse cx="252.3" cy="438.8" rx="0.7" ry="0.550" transform="rotate(138.3 252.3 438.8)"/>
<ellipse cx="254.4" cy="439.4" rx="1" ry="0.550" transform="rotate(156.9 254.4 439.4)"/>
<ellipse cx="257.9" cy="439.2" rx="1.1" ry="0.550" transform="rotate(159 257.9 439.2)"/>
<ellipse cx="256.2" cy="421.5" rx="0.9" ry="0.550" transform="rotate(74.8 256.2 421.5)"/>
<ellipse cx="240.6" cy="446.4" rx="1.4" ry="0.550" transform="rotate(27.2 240.6 446.4)"/>
<ellipse cx="252.7" cy="440.3" rx="0.9" ry="0.550" transform="rotate(87.3 252.7 440.3)"/>
<ellipse cx="244.5" cy="431.3" rx="0.7" ry="0.550" transform="rotate(75.4 244.5 431.3)"/>
<ellipse cx="242.7" cy="442.6" rx="1.4" ry="0.550" transform="rotate(124.3 242.7 442.6)"/>
<ellipse cx="238.7" cy="433.7" rx="1.2" ry="0.550" transform="rotate(9.7 238.7 433.7)"/>
<ellipse cx="260.9" cy="426.8" rx="1.3" ry="0.550" transform="rotate(143.6 260.9 426.8)"/>
<ellipse cx="243.5" cy="440" rx="0.8" ry="0.550" transform="rotate(114.2 243.5 440)"/>
<ellipse cx="253.6" cy="436.3" rx="0.8" ry="0.550" transform="rotate(29.2 253.6 436.3)"/>
<ellipse cx="248" cy="437.9" rx="0.7" ry="0.550" transform="rotate(27.2 248 437.9)"/>
<ellipse cx="256.4" cy="439.5" rx="0.7" ry="0.550" transform="rotate(157.4 256.4 439.5)"/>
</g>
<g clip-path="url(#b2c)">
<path d="M242,395.5C241.4,395.1 239.6,393.8 238.3,393.4C237,393 235.5,393.1 234.1,393C232.6,392.9 231,393.4 229.7,393C228.4,392.5 227.3,391.4 226.1,390.5C225,389.6 224,388.1 222.7,387.7C221.3,387.3 218.9,388 218.2,388" fill="none" stroke="#3f4f45" stroke-width="1.100" stroke-linecap="round"/><ellipse cx="245.8" cy="397.3" rx="3.9" ry="1.7" transform="rotate(25 245.8 397.3)" fill="#b9e3dd" stroke="#7db9b3" stroke-width="0.600"/>
<path d="M284,405C284.5,404.7 286.1,404 286.7,403.2C287.4,402.4 287.6,401.3 288,400.2C288.4,399.2 288.3,397.8 289,397C289.7,396.2 290.9,395.9 291.9,395.4C293,395 294.5,394.9 295.1,394.1C295.8,393.3 295.7,391.8 295.9,390.7C296.2,389.5 295.8,387.9 296.5,387.1C297.2,386.3 299.3,386.1 299.9,385.9" fill="none" stroke="#3f4f45" stroke-width="1.100" stroke-linecap="round"/><ellipse cx="280.8" cy="407.8" rx="3.9" ry="1.7" transform="rotate(-40 280.8 407.8)" fill="#b9e3dd" stroke="#7db9b3" stroke-width="0.600"/>
<path d="M217.2,410.3C217.1,409.8 217,408.3 216.4,407.5C215.9,406.8 214.9,406.5 214,406.1C213.1,405.6 211.8,405.5 211.3,404.8C210.8,404 210.9,402.8 210.8,401.8C210.7,400.8 211.1,399.4 210.6,398.6C210,397.9 208.6,397.9 207.6,397.6C206.6,397.2 204.9,397.4 204.4,396.6C203.8,395.9 204.4,393.9 204.4,393.3" fill="none" stroke="#3f4f45" stroke-width="1.100" stroke-linecap="round"/><ellipse cx="219.2" cy="413.5" rx="3.9" ry="1.7" transform="rotate(55 219.2 413.5)" fill="#b9e3dd" stroke="#7db9b3" stroke-width="0.600"/>
<path d="M215.5,447C215.4,446.4 215.3,444.6 214.8,443.6C214.2,442.7 213.1,442 212.2,441.3C211.3,440.5 209.9,440.1 209.4,439.1C208.8,438.1 209,436.8 208.9,435.6C208.8,434.3 209.3,432.8 208.7,431.8C208.2,430.9 206.7,430.5 205.6,429.8C204.5,429.2 202.7,428.9 202.2,428C201.6,427 202.3,424.7 202.3,424.1" fill="none" stroke="#3f4f45" stroke-width="1.100" stroke-linecap="round"/><ellipse cx="217.1" cy="450.6" rx="3.9" ry="1.7" transform="rotate(65 217.1 450.6)" fill="#b9e3dd" stroke="#7db9b3" stroke-width="0.600"/>
<path d="M224,467.5C223.5,467.6 221.7,467.7 220.8,468.3C219.9,468.8 219.3,469.9 218.6,470.7C217.9,471.5 217.4,472.8 216.5,473.4C215.6,473.9 214.3,473.8 213.2,473.9C212,474 210.6,473.6 209.7,474.2C208.7,474.7 208.3,476.1 207.7,477.1C207.1,478.1 206.9,479.8 206,480.3C205,480.8 202.9,480.3 202.3,480.3" fill="none" stroke="#3f4f45" stroke-width="1.100" stroke-linecap="round"/><ellipse cx="227.7" cy="465.5" rx="3.9" ry="1.7" transform="rotate(-30 227.7 465.5)" fill="#b9e3dd" stroke="#7db9b3" stroke-width="0.600"/>
<path d="M263.5,471.2C263.9,471.6 265.1,473 266,473.5C267,473.9 268.3,473.9 269.4,474C270.5,474.1 271.9,473.8 272.9,474.3C273.9,474.7 274.5,475.9 275.3,476.8C276.1,477.7 276.6,479.1 277.6,479.6C278.6,480.1 280,479.6 281.2,479.6C282.4,479.6 284,478.9 284.9,479.3C285.9,479.8 286.7,481.9 287.1,482.4" fill="none" stroke="#3f4f45" stroke-width="1.100" stroke-linecap="round"/><ellipse cx="259.5" cy="469.3" rx="3.9" ry="1.7" transform="rotate(25 259.5 469.3)" fill="#b9e3dd" stroke="#7db9b3" stroke-width="0.600"/>
<path d="M291,453C291,453.5 290.7,455 291,455.8C291.3,456.5 292.3,457.1 292.9,457.7C293.6,458.3 294.9,458.7 295.2,459.5C295.5,460.3 295,461.4 294.9,462.4C294.8,463.4 294,464.6 294.3,465.4C294.6,466.2 295.9,466.6 296.9,467.1C297.8,467.6 299.4,467.9 299.7,468.7C300,469.5 299,471.3 298.8,471.8" fill="none" stroke="#3f4f45" stroke-width="1.100" stroke-linecap="round"/><ellipse cx="289.2" cy="449.5" rx="3.9" ry="1.7" transform="rotate(60 289.2 449.5)" fill="#b9e3dd" stroke="#7db9b3" stroke-width="0.600"/>
</g>
<circle cx="323.2" cy="406.4" r="11.1" fill="#fff" stroke="#1a1a1a" stroke-width="1.5"/><text x="323.2" y="410.8" text-anchor="middle">2</text>
<text x="341.5" y="411.4">Both the collected</text>
<text x="341.5" y="425.2">egg(s) and the sperm</text>
<text x="341.5" y="439.1">sample are mixed in a</text>
<text x="341.5" y="452.9">petri dish, allowing</text>
<text x="341.5" y="466.8">fertilization to occur.</text>
<polygon points="311.700,506.400 348.900,506.400 348.900,519.400 364.100,519.400 330.200,545.500 296.700,519.400 311.700,519.400" fill="#cbcbcb" stroke="#6a6a6a" stroke-width="1.200" stroke-linejoin="miter"/>
<clipPath id="a23c"><polygon points="311.700,506.400 348.900,506.400 348.900,519.400 364.100,519.400 330.200,545.500 296.700,519.400 311.700,519.400"/></clipPath>
<g clip-path="url(#a23c)"><text x="331.500" y="545.300" text-anchor="middle" style="font-family:'Noto Sans CJK SC','Noto Sans CJK JP',sans-serif;font-size:47px;font-weight:300;fill:#fff;stroke:none">女</text></g>
<!-- panel 3: zygote removed from dish -->
<circle cx="111.8" cy="607.4" r="11.1" fill="#fff" stroke="#1a1a1a" stroke-width="1.5"/><text x="111.8" y="611.8" text-anchor="middle">3</text>
<text x="131" y="611.3">The fertilized</text>
<text x="131" y="625.2">zygote is then</text>
<text x="131" y="639.1">removed from</text>
<text x="131" y="653">the petri dish for</text>
<text x="131" y="666.9">implantation.</text>
<defs><linearGradient id="d3W" x1="0" y1="0" x2="1" y2="0"><stop offset="0" stop-color="#e2eeef"/><stop offset="0.450" stop-color="#d3e4e6"/><stop offset="0.800" stop-color="#b2cfd3"/><stop offset="1" stop-color="#9fc0c5"/></linearGradient>
<linearGradient id="d3I" x1="0" y1="0" x2="1" y2="0"><stop offset="0" stop-color="#98c2c6"/><stop offset="0.500" stop-color="#afd1d4"/><stop offset="1" stop-color="#bfdbdd"/></linearGradient>
<clipPath id="d3C"><ellipse cx="291.3" cy="655.1" rx="62.2" ry="17.7"/></clipPath></defs><path d="M226.5,654.8L226.5,668.3A64.8,19.2 0 0 0 356.1,668.3L356.1,654.8Z" fill="url(#d3W)" stroke="#22302f" stroke-width="1.200" stroke-linejoin="round"/><path d="M229.5,666.8A61.8,18.7 0 0 0 326.9,682.2" fill="none" stroke="#f3f9f9" stroke-width="1.600" opacity="0.800"/><ellipse cx="291.3" cy="654.8" rx="64.8" ry="19.2" fill="#e6f1f2"/><path d="M226.5,654.8A64.8,19.2 0 0 1 356.1,654.8" fill="none" stroke="#22302f" stroke-width="1.200"/><path d="M227.3,655.8A64,18.9 0 0 0 355.3,655.8" fill="none" stroke="#f1f8f8" stroke-width="1.400"/><ellipse cx="291.3" cy="655.1" rx="62.2" ry="17.7" fill="url(#d3I)"/><ellipse cx="291.3" cy="663.2" rx="61.8" ry="18.2" fill="#d8e9eb" clip-path="url(#d3C)"/><ellipse cx="291.3" cy="655.1" rx="62.2" ry="17.7" fill="none" stroke="#88b0b4" stroke-width="0.600"/>
<path d="M250,665C249.7,663.2 251.7,660.3 254,659C256.3,657.7 260.7,656.9 264,657C267.3,657.1 271.3,659.7 274,659.5C276.7,659.3 276.3,656.7 280,656C283.7,655.3 290.7,655.3 296,655.5C301.3,655.7 307.7,656.2 312,657C316.3,657.8 319.2,659 322,660.5C324.8,662 328.8,664.3 329,666C329.2,667.7 326.8,669.5 323,670.5C319.2,671.5 311.8,671.7 306,672C300.2,672.3 294,672.5 288,672.5C282,672.5 275.3,672.4 270,672C264.7,671.6 259.3,671.2 256,670C252.7,668.8 250.3,666.8 250,665Z" fill="#f4e7dc" stroke="#efdfd2" stroke-width="0.500"/>
<defs><linearGradient id="cArr3" x1="0" y1="0" x2="1" y2="0"><stop offset="0" stop-color="#c9ccd0"/><stop offset="0.600" stop-color="#d4d6d9"/><stop offset="1" stop-color="#bfc3c7"/></linearGradient></defs>
<path d="M288.8,652C288.9,649.6 288.9,642 289.5,637.6C290.1,633.2 290.7,628.9 292.4,625.5C294.1,622.1 296.5,619.2 299.7,617C302.9,614.8 307.4,613 311.8,612.1C316.2,611.2 321.4,611 326.4,611.4C331.4,611.8 339.4,614 342,614.5L347,609.700L362.700,630.300L336,635.600L339.700,626C338.1,625.7 333.4,624.7 330,624.3C326.6,623.9 323,623.4 319,623.5C315,623.6 309.2,624.1 305.8,625C302.4,625.9 300.3,626.9 298.5,629C296.7,631.1 295.6,633.8 294.8,637.6C294,641.4 293.8,649.6 293.6,652Z" fill="url(#cArr3)" stroke="#74797e" stroke-width="1" stroke-linejoin="round"/>
<path d="M288.8,652C288.9,649.6 288.9,642 289.5,637.6C290.1,633.2 290.7,628.9 292.4,625.5C294.1,622.1 297.4,619 299.7,617C302,615 304.9,614.3 306,613.8" fill="none" stroke="#2b3232" stroke-width="1.300"/>
<rect x="279.200" y="651.700" width="31.400" height="19.400" fill="#fdfdfd" stroke="#161616" stroke-width="1.200"/>
<path d="M158.9,572.5C161.4,573.4 175.7,578.2 180.5,580C185.3,581.8 196.3,586 200,587.5C203.7,589 210,591.6 212,592.5C214,593.4 215.9,594.4 217.5,595.5C219.1,596.6 224,600.4 226,602C228,603.6 232.9,607.2 235,609C237.1,610.8 242.9,616.1 244,617" fill="none" stroke="#7f9da6" stroke-width="5" stroke-linecap="butt" stroke-linejoin="round"/><path d="M158.9,572.5C161.4,573.4 175.7,578.2 180.5,580C185.3,581.8 196.3,586 200,587.5C203.7,589 210,591.6 212,592.5C214,593.4 215.9,594.4 217.5,595.5C219.1,596.6 224,600.4 226,602C228,603.6 232.9,607.2 235,609C237.1,610.8 242.9,616.1 244,617" fill="none" stroke="#c3d9df" stroke-width="3.400" stroke-linecap="butt" stroke-linejoin="round"/><path d="M158.9,572.5C161.4,573.4 175.7,578.2 180.5,580C185.3,581.8 196.3,586 200,587.5C203.7,589 210,591.6 212,592.5C214,593.4 215.9,594.4 217.5,595.5C219.1,596.6 224,600.4 226,602C228,603.6 232.9,607.2 235,609C237.1,610.8 242.9,616.1 244,617" fill="none" stroke="#e6f1f4" stroke-width="1" stroke-linecap="butt" stroke-linejoin="round" transform="translate(0,-0.600)"/><path d="M244,617L297.3,664.2" fill="none" stroke="#7f9da6" stroke-width="3.800" stroke-linecap="round"/><path d="M244,617L297.3,664.2" fill="none" stroke="#c9dde2" stroke-width="2.400" stroke-linecap="round"/><ellipse cx="244" cy="617" rx="3.600" ry="3" transform="rotate(40 244 617)" fill="#c3d9df" stroke="#7f9da6" stroke-width="0.800"/><g transform="rotate(19 180.5 580)"><rect x="176.8" y="573.7" width="7.400" height="12.600" rx="1.500" fill="#cfe0e5" stroke="#7f9da6" stroke-width="0.900"/><rect x="176.8" y="578.2" width="7.400" height="3.600" fill="#e9f2f4" opacity="0.800"/></g>
<rect x="363" y="574.100" width="194" height="118.100" fill="#fff" stroke="#1c1c1c" stroke-width="1.800"/>
<defs><clipPath id="b3c"><rect x="442.400" y="580.600" width="107" height="106.100"/></clipPath></defs>
<rect x="442.400" y="580.600" width="107" height="106.100" fill="#f2e6d8"/>
<g clip-path="url(#b3c)"><g filter="url(#bl2)" fill="none" stroke-linecap="round">
<path d="M446,597C470,585 510,580 546,589" stroke="#faf4ea" stroke-width="7"/>
<path d="M541,592C549,612 550,642 545,672" stroke="#f9f2e8" stroke-width="8"/>
<path d="M468,642C470,622 488,606 510,604C526,604 531,616 531,630" stroke="#f9f2e8" stroke-width="6"/>
<path d="M446,676C470,686 500,688 520,682" stroke="#f9f2e8" stroke-width="6"/>
<path d="M461,615C469,601 490,592.500 512,592C529,593 537,606 539,622" stroke="#ddd1c2" stroke-width="4"/>
<path d="M539,622C542,640 538,660 525,672C519,676.500 513,678 507,678" stroke="#d9ccbc" stroke-width="5"/>
<path d="M515,629C524.500,636 525.500,646 517,654C511,659 503,661 496,661" stroke="#d3c7b9" stroke-width="4.500"/>
<path d="M476,625.500C482,617.500 494,613.500 505,614" stroke="#e0d5c8" stroke-width="3"/>
<path d="M452,660C462,672 480,680 500,680" stroke="#e6dbce" stroke-width="3"/>
<path d="M444,612C452,602 462,596 474,592" stroke="#e6dbce" stroke-width="3"/>
</g></g>
<polygon points="372,582 462,621.500 460.300,633.200 367,593.700" fill="url(#cath)" stroke="#7fb4b8" stroke-width="0.700"/>
<polygon points="372,582 462,621.500 461.400,623.600 371.400,584.100" fill="#d8eeee"/>
<polygon points="371.400,584.100 461.400,623.600 461.200,624.500 371.200,585" fill="#7ba9ae"/>
<polygon points="393.900,595.600 432.200,612.400 430.200,618.800 392,602" fill="#8fb3b6"/>
<polygon points="369,591.900 459,631.400 460.300,633.200 367,593.700" fill="#cfe9ea"/>
<polygon points="372,582 374.500,583.100 369.800,594.900 367,593.700" fill="#7aa9ad"/>
<path d="M462,621.500L460.300,633.200" stroke="#2a3a3a" stroke-width="1.200"/>
<circle cx="451.800" cy="623.600" r="5.400" fill="url(#eggG)" stroke="#b58cc0" stroke-width="0.900"/>
<circle cx="500" cy="637.300" r="5.400" fill="url(#eggG)" stroke="#b58cc0" stroke-width="0.900"/>
<path d="M494.500,638.200C486,639 477,636.500 472,633.500" fill="none" stroke="#111" stroke-width="1.800"/>
<polygon points="464.500,630.300 474.800,629.600 471.300,637.500" fill="#111"/>
<path d="M438,667.800L496.500,640.700" stroke="#1c1c1c" stroke-width="1.500" fill="none"/>
<text x="384.8" y="669.3">Fertilized</text>
<text x="384.8" y="683">zygote</text>
<polygon points="311.800,715.600 348.900,715.600 348.900,729.500 363.600,729.500 330.200,754.800 296.400,729.500 311.800,729.500" fill="#cbcbcb" stroke="#6a6a6a" stroke-width="1.200" stroke-linejoin="miter"/>
<!-- panel 4: implantation into uterus -->
<g opacity="0.140">
<g transform="translate(838,0) scale(-1,1)">
<defs><clipPath id="uRc"><path d="M304,795.3C306.3,796.1 313,799.8 318,800.2C323,800.6 328.3,799.7 334,797.6C339.7,795.5 345.7,790.6 352,787.5C358.3,784.4 365.3,781.2 372,779.1C378.7,777 385.8,775.8 392,774.8C398.2,773.8 404.9,773.7 409.4,773.4C413.9,773.1 417.4,773.2 419,773.2L419,954.600L359,954.600C358.3,953.2 356.3,949 355,946C353.7,943 352.5,939.9 351,936.4C349.5,932.9 347.5,929 346,925C344.5,921 343.1,917.4 341.8,912.7C340.5,908 339.2,902.1 338,897C336.8,891.9 335.6,886.5 334.5,881.8C333.4,877.1 332.4,873 331.5,869C330.6,865 329.7,861.5 329,858C328.3,854.5 327.7,850.8 327.2,848C326.7,845.2 326.3,843.2 325.8,841C325.3,838.8 324.7,836.8 324,835C323.3,833.2 322.7,831.5 321.8,830C320.9,828.5 319.7,827.2 318.5,826C317.3,824.8 316,823.7 314.5,822.5C313,821.3 311.2,820.1 309.5,819C307.8,817.9 304.9,816.5 304,816Z"/></clipPath>
<linearGradient id="uRf" x1="0" y1="0" x2="0" y2="1"><stop offset="0" stop-color="#f2b09b"/><stop offset="0.500" stop-color="#f6c4b1"/><stop offset="1" stop-color="#f9d4c6"/></linearGradient></defs>
<g clip-path="url(#uRc)">
<rect x="300" y="768" width="120" height="190" fill="#ec8c76"/>
<path d="M304,809C306.7,809.9 314.8,812.4 320,814.5C325.2,816.6 330,819.3 335,821.5C340,823.7 345,826 350,827.5C355,829 359.2,829.9 365,830.5C370.8,831.1 377.6,831.4 385,831.3C392.4,831.2 403.7,830.2 409.4,830C415.1,829.8 417.4,829.8 419,829.8L419,956L401.800,956C401.3,948.8 400.2,924.5 399,912.7C397.8,901 396.4,894.6 394.5,885.5C392.6,876.4 390.1,865.6 387.3,858.2C384.6,850.8 381.2,845.3 378,841C374.8,836.7 372.3,834.9 368,832.5C363.7,830.1 357.5,828.5 352,826.5C346.5,824.5 343,823.4 335,820.5C327,817.6 309.2,810.9 304,809Z" fill="#e7705a"/>
<path d="M352,833C354.3,834.7 361.8,839 366,843C370.2,847 373.8,851.5 377,857C380.2,862.5 382.7,868.8 385,876C387.3,883.2 389.2,891.3 391,900C392.8,908.7 394.3,918.7 395.5,928C396.7,937.3 397.6,951.3 398,956" fill="none" stroke="#f0a08b" stroke-width="1.800" opacity="0.700"/>
<path d="M304,803.5C306.3,804.5 313,807.3 318,809.5C323,811.7 328.3,814.2 334,816.5C339.7,818.8 345.7,821.6 352,823.3C358.3,825 365.3,826.2 372,826.8C378.7,827.4 385.8,827.2 392,827C398.2,826.8 404.9,825.7 409.4,825.4C413.9,825.1 417.4,825.2 419,825.2L419,768L304,768Z" fill="url(#uRf)"/>
<path d="M304,798.3C306.3,799.1 313,802.5 318,803.5C323,804.6 328.3,804.9 334,804.4C339.7,803.9 345.7,801.7 352,800.4C358.3,799 365.3,797.4 372,796.3C378.7,795.1 385.8,794.3 392,793.6C398.2,792.9 404.9,792.4 409.4,792.1C413.9,791.8 417.4,792 419,791.9" fill="none" stroke="#fbe2d7" stroke-width="1.6"/>
<path d="M304,799.6C306.3,800.5 313,803.7 318,805C323,806.3 328.3,807.2 334,807.4C339.7,807.6 345.7,806.7 352,806.1C358.3,805.5 365.3,804.6 372,803.9C378.7,803.2 385.8,802.5 392,801.9C398.2,801.4 404.9,800.7 409.4,800.4C413.9,800.2 417.4,800.3 419,800.2" fill="none" stroke="#fce6dc" stroke-width="1.8"/>
<path d="M304,800.7C306.3,801.6 313,804.8 318,806.3C323,807.9 328.3,809.3 334,810.1C339.7,810.9 345.7,811 352,811.1C358.3,811.2 365.3,810.9 372,810.6C378.7,810.3 385.8,809.7 392,809.3C398.2,808.8 404.9,808 409.4,807.7C413.9,807.4 417.4,807.6 419,807.5" fill="none" stroke="#fce6dc" stroke-width="1.8"/>
<path d="M304,801.8C306.3,802.7 313,805.8 318,807.5C323,809.3 328.3,811.2 334,812.5C339.7,813.9 345.7,815.1 352,815.8C358.3,816.5 365.3,816.7 372,816.8C378.7,816.8 385.8,816.4 392,816C398.2,815.7 404.9,814.8 409.4,814.5C413.9,814.2 417.4,814.3 419,814.3" fill="none" stroke="#fce8de" stroke-width="1.8"/>
<path d="M304,802.8C306.3,803.8 313,806.7 318,808.8C323,810.8 328.3,813 334,815C339.7,816.9 345.7,819.1 352,820.4C358.3,821.8 365.3,822.6 372,823C378.7,823.4 385.8,823.1 392,822.8C398.2,822.5 404.9,821.5 409.4,821.2C413.9,820.9 417.4,821.1 419,821" fill="none" stroke="#fcebe3" stroke-width="2.2"/>
<path d="M304,799C306.3,799.9 313,803.2 318,804.4C323,805.6 328.3,806.2 334,806.1C339.7,806 345.7,804.5 352,803.6C358.3,802.7 365.3,801.5 372,800.6C378.7,799.7 385.8,798.9 392,798.3C398.2,797.7 404.9,797.1 409.4,796.8C413.9,796.5 417.4,796.6 419,796.6" fill="none" stroke="#f1b5a1" stroke-width="0.800"/>
<path d="M304,800.2C306.3,801.1 313,804.3 318,805.8C323,807.2 328.3,808.4 334,808.9C339.7,809.5 345.7,809.2 352,809C358.3,808.8 365.3,808.2 372,807.7C378.7,807.2 385.8,806.6 392,806.1C398.2,805.6 404.9,804.9 409.4,804.6C413.9,804.3 417.4,804.4 419,804.4" fill="none" stroke="#f1b5a1" stroke-width="0.800"/>
<path d="M304,801.3C306.3,802.2 313,805.3 318,807C323,808.7 328.3,810.3 334,811.4C339.7,812.5 345.7,813.2 352,813.6C358.3,814.1 365.3,814 372,813.9C378.7,813.8 385.8,813.3 392,812.9C398.2,812.5 404.9,811.7 409.4,811.4C413.9,811.1 417.4,811.2 419,811.2" fill="none" stroke="#f1b5a1" stroke-width="0.800"/>
<path d="M304,802.4C306.3,803.3 313,806.3 318,808.2C323,810.1 328.3,812.2 334,813.9C339.7,815.5 345.7,817.2 352,818.3C358.3,819.3 365.3,819.9 372,820.1C378.7,820.4 385.8,820 392,819.7C398.2,819.4 404.9,818.4 409.4,818.1C413.9,817.8 417.4,818 419,817.9" fill="none" stroke="#f1b5a1" stroke-width="0.800"/>
<path d="M304,795.3C306.3,796.1 313,799.8 318,800.2C323,800.6 328.3,799.7 334,797.6C339.7,795.5 345.7,790.6 352,787.5C358.3,784.4 365.3,781.2 372,779.1C378.7,777 385.8,775.8 392,774.8C398.2,773.8 404.9,773.7 409.4,773.4C413.9,773.1 417.4,773.2 419,773.2" fill="none" stroke="#eb9c86" stroke-width="1.300"/>
<path d="M318,824C320.3,824.8 327.4,826.7 332,829C336.6,831.3 342,835.3 345.5,838C349,840.7 350.6,842.5 353,845C355.4,847.5 357.8,850.4 360,852.7C362.2,855 364.5,856.9 366.5,859C368.5,861.1 370.4,862.8 371.8,865.5C373.2,868.2 373.9,871.4 375,875C376.1,878.6 377,882.8 378.2,887.3C379.4,891.8 380.8,897.1 382,902C383.2,906.9 384.4,911.7 385.5,916.4C386.6,921.1 387.6,925.8 388.5,930C389.4,934.2 390.1,937.5 391,941.8C391.9,946.1 393.2,953.6 393.6,956L359,956C358.3,953.2 356.3,949 355,946C353.7,943 352.5,939.9 351,936.4C349.5,932.9 347.5,929 346,925C344.5,921 343.1,917.4 341.8,912.7C340.5,908 339.2,902.1 338,897C336.8,891.9 335.6,886.5 334.5,881.8C333.4,877.1 332.4,873 331.5,869C330.6,865 329.7,861.5 329,858C328.3,854.5 327.7,850.8 327.2,848C326.7,845.2 326.3,843.2 325.8,841C325.3,838.8 324.7,836.8 324,835C323.3,833.2 322.7,831.5 321.8,830C320.9,828.5 319.7,827.2 318.5,826C317.3,824.8 315.2,823.1 314.5,822.5Z" fill="#f8d5c5"/>
<path d="M323.8,830.1C324.7,831.9 327.5,836.5 329.2,841.1C330.8,845.7 331.9,850.8 333.8,857.6C335.6,864.5 338.2,872.9 340.5,882.1C342.9,891.3 345.2,903.8 347.8,912.9C350.5,922 353.9,929.6 356.5,936.8C359.2,944 362.6,952.8 363.8,956" fill="none" stroke="#fdeee7" stroke-width="1.100" opacity="0.700"/>
<path d="M325.6,830.1C326.8,832 330.2,836.7 332.3,841.3C334.4,845.8 335.9,850.5 338.2,857.3C340.5,864.2 343.6,873.1 346.1,882.4C348.7,891.7 350.9,903.9 353.5,913.1C356.1,922.2 359.2,929.9 361.7,937.1C364.1,944.3 367.2,952.9 368.3,956" fill="none" stroke="#fdeee7" stroke-width="1.100" opacity="0.700"/>
<path d="M327.3,830.2C328.7,832.1 332.8,836.9 335.2,841.4C337.7,845.9 339.6,850.1 342.3,857C344.9,863.9 348.5,873.3 351.3,882.7C354,892 356.1,904.1 358.6,913.2C361.2,922.3 364.1,930.3 366.4,937.4C368.7,944.5 371.5,952.9 372.5,956" fill="none" stroke="#fdeee7" stroke-width="1.100" opacity="0.700"/>
<path d="M328.9,830.2C330.4,832.1 335,837.1 337.9,841.5C340.8,845.9 343,849.9 346,856.8C349,863.6 353.1,873.5 356,882.9C358.9,892.3 360.9,904.2 363.4,913.4C365.9,922.5 368.6,930.6 370.8,937.7C372.9,944.8 375.4,953 376.3,956" fill="none" stroke="#fdeee7" stroke-width="1.100" opacity="0.700"/>
<path d="M330.5,830.3C332.1,832.2 337.3,837.2 340.6,841.6C343.8,846 346.4,849.6 349.7,856.5C353.1,863.4 357.7,873.6 360.7,883.1C363.8,892.6 365.8,904.4 368.2,913.5C370.5,922.6 373.1,930.9 375.1,938C377.1,945.1 379.3,953 380.1,956" fill="none" stroke="#fdeee7" stroke-width="1.100" opacity="0.700"/>
<path d="M332,830.4C333.9,832.3 339.6,837.4 343.2,841.7C346.8,846 349.8,849.3 353.5,856.2C357.2,863.1 362.2,873.8 365.5,883.4C368.7,893 370.6,904.5 372.9,913.6C375.2,922.8 377.6,931.2 379.4,938.3C381.3,945.3 383.2,953 383.9,956" fill="none" stroke="#fdeee7" stroke-width="1.100" opacity="0.700"/>
<path d="M333.6,830.4C335.6,832.3 341.9,837.6 345.9,841.8C349.8,846.1 353.2,849 357.2,855.9C361.3,862.9 366.8,874 370.2,883.6C373.6,893.3 375.4,904.6 377.7,913.8C379.9,922.9 382.1,931.5 383.8,938.6C385.5,945.6 387.1,953.1 387.7,956" fill="none" stroke="#fdeee7" stroke-width="1.100" opacity="0.700"/>
<path d="M335,830.5C337.2,832.4 344,837.7 348.3,841.9C352.6,846.1 356.3,848.7 360.6,855.7C365,862.7 370.9,874.1 374.5,883.8C378,893.6 379.8,904.7 382,913.9C384.2,923.1 386.2,931.8 387.7,938.8C389.3,945.8 390.6,953.1 391.2,956" fill="none" stroke="#fdeee7" stroke-width="1.100" opacity="0.700"/>
<path d="M324.8,830.1C325.8,832 329,836.6 330.9,841.2C332.8,845.8 334,850.6 336.1,857.5C338.2,864.3 341.1,873 343.5,882.3C346,891.5 348.2,903.9 350.9,913C353.5,922.1 356.7,929.8 359.3,936.9C361.9,944.1 365.1,952.8 366.3,956" fill="none" stroke="#f3bfab" stroke-width="0.700"/>
<path d="M326.5,830.2C327.7,832 331.5,836.8 333.8,841.3C336.1,845.8 337.7,850.3 340.2,857.2C342.7,864 346.1,873.2 348.7,882.5C351.3,891.9 353.5,904 356.1,913.1C358.6,922.3 361.6,930.1 364,937.3C366.4,944.4 369.4,952.9 370.4,956" fill="none" stroke="#f3bfab" stroke-width="0.700"/>
<path d="M328.2,830.2C329.6,832.1 334,837 336.7,841.5C339.4,845.9 341.4,850 344.3,856.9C347.2,863.8 351,873.4 353.9,882.8C356.7,892.2 358.8,904.2 361.2,913.3C363.7,922.4 366.6,930.5 368.8,937.6C371,944.7 373.6,952.9 374.6,956" fill="none" stroke="#f3bfab" stroke-width="0.700"/>
<path d="M329.8,830.3C331.4,832.2 336.3,837.2 339.4,841.6C342.4,845.9 344.8,849.7 348,856.6C351.2,863.5 355.6,873.6 358.6,883C361.6,892.5 363.6,904.3 366,913.4C368.4,922.6 371.1,930.8 373.1,937.9C375.2,945 377.5,953 378.4,956" fill="none" stroke="#f3bfab" stroke-width="0.700"/>
<path d="M331.3,830.3C333.1,832.2 338.6,837.3 342,841.7C345.4,846 348.2,849.4 351.8,856.3C355.3,863.3 360.1,873.7 363.3,883.3C366.5,892.8 368.4,904.4 370.7,913.6C373.1,922.7 375.6,931.1 377.5,938.1C379.4,945.2 381.4,953 382.2,956" fill="none" stroke="#f3bfab" stroke-width="0.700"/>
<path d="M332.9,830.4C334.8,832.3 340.9,837.5 344.7,841.8C348.4,846.1 351.6,849.1 355.5,856C359.4,863 364.7,873.9 368,883.5C371.4,893.1 373.2,904.6 375.5,913.7C377.8,922.9 380.1,931.4 381.8,938.4C383.6,945.5 385.3,953.1 386,956" fill="none" stroke="#f3bfab" stroke-width="0.700"/>
<path d="M334.3,830.4C336.4,832.3 343,837.7 347.1,841.9C351.2,846.1 354.7,848.8 358.9,855.8C363.1,862.8 368.9,874.1 372.3,883.7C375.8,893.4 377.6,904.7 379.8,913.8C382.1,923 384.2,931.7 385.8,938.7C387.4,945.7 388.8,953.1 389.4,956" fill="none" stroke="#f3bfab" stroke-width="0.700"/>
<path d="M318.5,826C319.1,826.7 320.9,828.5 321.8,830C322.7,831.5 323.3,833.2 324,835C324.7,836.8 325.3,838.8 325.8,841C326.3,843.2 326.7,845.2 327.2,848C327.7,850.8 328.3,854.5 329,858C329.7,861.5 330.6,865 331.5,869C332.4,873 333.4,877.1 334.5,881.8C335.6,886.5 336.8,891.9 338,897C339.2,902.1 340.5,908 341.8,912.7C343.1,917.4 344.5,921 346,925C347.5,929 349.5,932.9 351,936.4C352.5,939.9 353.7,943 355,946C356.3,949 358.3,953.2 359,954.6" fill="none" stroke="#f0a993" stroke-width="5"/>
<path d="M321.8,830C322.2,830.8 323.3,833.2 324,835C324.7,836.8 325.3,838.8 325.8,841C326.3,843.2 326.7,845.2 327.2,848C327.7,850.8 328.3,854.5 329,858C329.7,861.5 330.6,865 331.5,869C332.4,873 333.4,877.1 334.5,881.8C335.6,886.5 336.8,891.9 338,897C339.2,902.1 340.5,908 341.8,912.7C343.1,917.4 344.5,921 346,925C347.5,929 349.5,932.9 351,936.4C352.5,939.9 353.7,943 355,946C356.3,949 358.3,953.2 359,954.6" fill="none" stroke="#fdeee7" stroke-width="1" transform="translate(3,0)"/>
</g>
</g>
<defs><clipPath id="uMc"><path d="M304,795.3C306.3,796.1 313,799.8 318,800.2C323,800.6 328.3,799.7 334,797.6C339.7,795.5 345.7,790.6 352,787.5C358.3,784.4 365.3,781.2 372,779.1C378.7,777 385.8,775.8 392,774.8C398.2,773.8 404.9,773.7 409.4,773.4C413.9,773.1 417.4,773.2 419,773.2L419,954.600L359,954.600C358.3,953.2 356.3,949 355,946C353.7,943 352.5,939.9 351,936.4C349.5,932.9 347.5,929 346,925C344.5,921 343.1,917.4 341.8,912.7C340.5,908 339.2,902.1 338,897C336.8,891.9 335.6,886.5 334.5,881.8C333.4,877.1 332.4,873 331.5,869C330.6,865 329.7,861.5 329,858C328.3,854.5 327.7,850.8 327.2,848C326.7,845.2 326.3,843.2 325.8,841C325.3,838.8 324.7,836.8 324,835C323.3,833.2 322.7,831.5 321.8,830C320.9,828.5 319.7,827.2 318.5,826C317.3,824.8 316,823.7 314.5,822.5C313,821.3 311.2,820.1 309.5,819C307.8,817.9 304.9,816.5 304,816Z"/></clipPath>
<linearGradient id="uMf" x1="0" y1="0" x2="0" y2="1"><stop offset="0" stop-color="#f2b09b"/><stop offset="0.500" stop-color="#f6c4b1"/><stop offset="1" stop-color="#f9d4c6"/></linearGradient></defs>
<g clip-path="url(#uMc)">
<rect x="300" y="768" width="120" height="190" fill="#ec8c76"/>
<path d="M304,809C306.7,809.9 314.8,812.4 320,814.5C325.2,816.6 330,819.3 335,821.5C340,823.7 345,826 350,827.5C355,829 359.2,829.9 365,830.5C370.8,831.1 377.6,831.4 385,831.3C392.4,831.2 403.7,830.2 409.4,830C415.1,829.8 417.4,829.8 419,829.8L419,956L401.800,956C401.3,948.8 400.2,924.5 399,912.7C397.8,901 396.4,894.6 394.5,885.5C392.6,876.4 390.1,865.6 387.3,858.2C384.6,850.8 381.2,845.3 378,841C374.8,836.7 372.3,834.9 368,832.5C363.7,830.1 357.5,828.5 352,826.5C346.5,824.5 343,823.4 335,820.5C327,817.6 309.2,810.9 304,809Z" fill="#e7705a"/>
<path d="M352,833C354.3,834.7 361.8,839 366,843C370.2,847 373.8,851.5 377,857C380.2,862.5 382.7,868.8 385,876C387.3,883.2 389.2,891.3 391,900C392.8,908.7 394.3,918.7 395.5,928C396.7,937.3 397.6,951.3 398,956" fill="none" stroke="#f0a08b" stroke-width="1.800" opacity="0.700"/>
<path d="M304,803.5C306.3,804.5 313,807.3 318,809.5C323,811.7 328.3,814.2 334,816.5C339.7,818.8 345.7,821.6 352,823.3C358.3,825 365.3,826.2 372,826.8C378.7,827.4 385.8,827.2 392,827C398.2,826.8 404.9,825.7 409.4,825.4C413.9,825.1 417.4,825.2 419,825.2L419,768L304,768Z" fill="url(#uMf)"/>
<path d="M304,798.3C306.3,799.1 313,802.5 318,803.5C323,804.6 328.3,804.9 334,804.4C339.7,803.9 345.7,801.7 352,800.4C358.3,799 365.3,797.4 372,796.3C378.7,795.1 385.8,794.3 392,793.6C398.2,792.9 404.9,792.4 409.4,792.1C413.9,791.8 417.4,792 419,791.9" fill="none" stroke="#fbe2d7" stroke-width="1.6"/>
<path d="M304,799.6C306.3,800.5 313,803.7 318,805C323,806.3 328.3,807.2 334,807.4C339.7,807.6 345.7,806.7 352,806.1C358.3,805.5 365.3,804.6 372,803.9C378.7,803.2 385.8,802.5 392,801.9C398.2,801.4 404.9,800.7 409.4,800.4C413.9,800.2 417.4,800.3 419,800.2" fill="none" stroke="#fce6dc" stroke-width="1.8"/>
<path d="M304,800.7C306.3,801.6 313,804.8 318,806.3C323,807.9 328.3,809.3 334,810.1C339.7,810.9 345.7,811 352,811.1C358.3,811.2 365.3,810.9 372,810.6C378.7,810.3 385.8,809.7 392,809.3C398.2,808.8 404.9,808 409.4,807.7C413.9,807.4 417.4,807.6 419,807.5" fill="none" stroke="#fce6dc" stroke-width="1.8"/>
<path d="M304,801.8C306.3,802.7 313,805.8 318,807.5C323,809.3 328.3,811.2 334,812.5C339.7,813.9 345.7,815.1 352,815.8C358.3,816.5 365.3,816.7 372,816.8C378.7,816.8 385.8,816.4 392,816C398.2,815.7 404.9,814.8 409.4,814.5C413.9,814.2 417.4,814.3 419,814.3" fill="none" stroke="#fce8de" stroke-width="1.8"/>
<path d="M304,802.8C306.3,803.8 313,806.7 318,808.8C323,810.8 328.3,813 334,815C339.7,816.9 345.7,819.1 352,820.4C358.3,821.8 365.3,822.6 372,823C378.7,823.4 385.8,823.1 392,822.8C398.2,822.5 404.9,821.5 409.4,821.2C413.9,820.9 417.4,821.1 419,821" fill="none" stroke="#fcebe3" stroke-width="2.2"/>
<path d="M304,799C306.3,799.9 313,803.2 318,804.4C323,805.6 328.3,806.2 334,806.1C339.7,806 345.7,804.5 352,803.6C358.3,802.7 365.3,801.5 372,800.6C378.7,799.7 385.8,798.9 392,798.3C398.2,797.7 404.9,797.1 409.4,796.8C413.9,796.5 417.4,796.6 419,796.6" fill="none" stroke="#f1b5a1" stroke-width="0.800"/>
<path d="M304,800.2C306.3,801.1 313,804.3 318,805.8C323,807.2 328.3,808.4 334,808.9C339.7,809.5 345.7,809.2 352,809C358.3,808.8 365.3,808.2 372,807.7C378.7,807.2 385.8,806.6 392,806.1C398.2,805.6 404.9,804.9 409.4,804.6C413.9,804.3 417.4,804.4 419,804.4" fill="none" stroke="#f1b5a1" stroke-width="0.800"/>
<path d="M304,801.3C306.3,802.2 313,805.3 318,807C323,808.7 328.3,810.3 334,811.4C339.7,812.5 345.7,813.2 352,813.6C358.3,814.1 365.3,814 372,813.9C378.7,813.8 385.8,813.3 392,812.9C398.2,812.5 404.9,811.7 409.4,811.4C413.9,811.1 417.4,811.2 419,811.2" fill="none" stroke="#f1b5a1" stroke-width="0.800"/>
<path d="M304,802.4C306.3,803.3 313,806.3 318,808.2C323,810.1 328.3,812.2 334,813.9C339.7,815.5 345.7,817.2 352,818.3C358.3,819.3 365.3,819.9 372,820.1C378.7,820.4 385.8,820 392,819.7C398.2,819.4 404.9,818.4 409.4,818.1C413.9,817.8 417.4,818 419,817.9" fill="none" stroke="#f1b5a1" stroke-width="0.800"/>
<path d="M304,795.3C306.3,796.1 313,799.8 318,800.2C323,800.6 328.3,799.7 334,797.6C339.7,795.5 345.7,790.6 352,787.5C358.3,784.4 365.3,781.2 372,779.1C378.7,777 385.8,775.8 392,774.8C398.2,773.8 404.9,773.7 409.4,773.4C413.9,773.1 417.4,773.2 419,773.2" fill="none" stroke="#eb9c86" stroke-width="1.300"/>
<path d="M318,824C320.3,824.8 327.4,826.7 332,829C336.6,831.3 342,835.3 345.5,838C349,840.7 350.6,842.5 353,845C355.4,847.5 357.8,850.4 360,852.7C362.2,855 364.5,856.9 366.5,859C368.5,861.1 370.4,862.8 371.8,865.5C373.2,868.2 373.9,871.4 375,875C376.1,878.6 377,882.8 378.2,887.3C379.4,891.8 380.8,897.1 382,902C383.2,906.9 384.4,911.7 385.5,916.4C386.6,921.1 387.6,925.8 388.5,930C389.4,934.2 390.1,937.5 391,941.8C391.9,946.1 393.2,953.6 393.6,956L359,956C358.3,953.2 356.3,949 355,946C353.7,943 352.5,939.9 351,936.4C349.5,932.9 347.5,929 346,925C344.5,921 343.1,917.4 341.8,912.7C340.5,908 339.2,902.1 338,897C336.8,891.9 335.6,886.5 334.5,881.8C333.4,877.1 332.4,873 331.5,869C330.6,865 329.7,861.5 329,858C328.3,854.5 327.7,850.8 327.2,848C326.7,845.2 326.3,843.2 325.8,841C325.3,838.8 324.7,836.8 324,835C323.3,833.2 322.7,831.5 321.8,830C320.9,828.5 319.7,827.2 318.5,826C317.3,824.8 315.2,823.1 314.5,822.5Z" fill="#f8d5c5"/>
<path d="M323.8,830.1C324.7,831.9 327.5,836.5 329.2,841.1C330.8,845.7 331.9,850.8 333.8,857.6C335.6,864.5 338.2,872.9 340.5,882.1C342.9,891.3 345.2,903.8 347.8,912.9C350.5,922 353.9,929.6 356.5,936.8C359.2,944 362.6,952.8 363.8,956" fill="none" stroke="#fdeee7" stroke-width="1.100" opacity="0.700"/>
<path d="M325.6,830.1C326.8,832 330.2,836.7 332.3,841.3C334.4,845.8 335.9,850.5 338.2,857.3C340.5,864.2 343.6,873.1 346.1,882.4C348.7,891.7 350.9,903.9 353.5,913.1C356.1,922.2 359.2,929.9 361.7,937.1C364.1,944.3 367.2,952.9 368.3,956" fill="none" stroke="#fdeee7" stroke-width="1.100" opacity="0.700"/>
<path d="M327.3,830.2C328.7,832.1 332.8,836.9 335.2,841.4C337.7,845.9 339.6,850.1 342.3,857C344.9,863.9 348.5,873.3 351.3,882.7C354,892 356.1,904.1 358.6,913.2C361.2,922.3 364.1,930.3 366.4,937.4C368.7,944.5 371.5,952.9 372.5,956" fill="none" stroke="#fdeee7" stroke-width="1.100" opacity="0.700"/>
<path d="M328.9,830.2C330.4,832.1 335,837.1 337.9,841.5C340.8,845.9 343,849.9 346,856.8C349,863.6 353.1,873.5 356,882.9C358.9,892.3 360.9,904.2 363.4,913.4C365.9,922.5 368.6,930.6 370.8,937.7C372.9,944.8 375.4,953 376.3,956" fill="none" stroke="#fdeee7" stroke-width="1.100" opacity="0.700"/>
<path d="M330.5,830.3C332.1,832.2 337.3,837.2 340.6,841.6C343.8,846 346.4,849.6 349.7,856.5C353.1,863.4 357.7,873.6 360.7,883.1C363.8,892.6 365.8,904.4 368.2,913.5C370.5,922.6 373.1,930.9 375.1,938C377.1,945.1 379.3,953 380.1,956" fill="none" stroke="#fdeee7" stroke-width="1.100" opacity="0.700"/>
<path d="M332,830.4C333.9,832.3 339.6,837.4 343.2,841.7C346.8,846 349.8,849.3 353.5,856.2C357.2,863.1 362.2,873.8 365.5,883.4C368.7,893 370.6,904.5 372.9,913.6C375.2,922.8 377.6,931.2 379.4,938.3C381.3,945.3 383.2,953 383.9,956" fill="none" stroke="#fdeee7" stroke-width="1.100" opacity="0.700"/>
<path d="M333.6,830.4C335.6,832.3 341.9,837.6 345.9,841.8C349.8,846.1 353.2,849 357.2,855.9C361.3,862.9 366.8,874 370.2,883.6C373.6,893.3 375.4,904.6 377.7,913.8C379.9,922.9 382.1,931.5 383.8,938.6C385.5,945.6 387.1,953.1 387.7,956" fill="none" stroke="#fdeee7" stroke-width="1.100" opacity="0.700"/>
<path d="M335,830.5C337.2,832.4 344,837.7 348.3,841.9C352.6,846.1 356.3,848.7 360.6,855.7C365,862.7 370.9,874.1 374.5,883.8C378,893.6 379.8,904.7 382,913.9C384.2,923.1 386.2,931.8 387.7,938.8C389.3,945.8 390.6,953.1 391.2,956" fill="none" stroke="#fdeee7" stroke-width="1.100" opacity="0.700"/>
<path d="M324.8,830.1C325.8,832 329,836.6 330.9,841.2C332.8,845.8 334,850.6 336.1,857.5C338.2,864.3 341.1,873 343.5,882.3C346,891.5 348.2,903.9 350.9,913C353.5,922.1 356.7,929.8 359.3,936.9C361.9,944.1 365.1,952.8 366.3,956" fill="none" stroke="#f3bfab" stroke-width="0.700"/>
<path d="M326.5,830.2C327.7,832 331.5,836.8 333.8,841.3C336.1,845.8 337.7,850.3 340.2,857.2C342.7,864 346.1,873.2 348.7,882.5C351.3,891.9 353.5,904 356.1,913.1C358.6,922.3 361.6,930.1 364,937.3C366.4,944.4 369.4,952.9 370.4,956" fill="none" stroke="#f3bfab" stroke-width="0.700"/>
<path d="M328.2,830.2C329.6,832.1 334,837 336.7,841.5C339.4,845.9 341.4,850 344.3,856.9C347.2,863.8 351,873.4 353.9,882.8C356.7,892.2 358.8,904.2 361.2,913.3C363.7,922.4 366.6,930.5 368.8,937.6C371,944.7 373.6,952.9 374.6,956" fill="none" stroke="#f3bfab" stroke-width="0.700"/>
<path d="M329.8,830.3C331.4,832.2 336.3,837.2 339.4,841.6C342.4,845.9 344.8,849.7 348,856.6C351.2,863.5 355.6,873.6 358.6,883C361.6,892.5 363.6,904.3 366,913.4C368.4,922.6 371.1,930.8 373.1,937.9C375.2,945 377.5,953 378.4,956" fill="none" stroke="#f3bfab" stroke-width="0.700"/>
<path d="M331.3,830.3C333.1,832.2 338.6,837.3 342,841.7C345.4,846 348.2,849.4 351.8,856.3C355.3,863.3 360.1,873.7 363.3,883.3C366.5,892.8 368.4,904.4 370.7,913.6C373.1,922.7 375.6,931.1 377.5,938.1C379.4,945.2 381.4,953 382.2,956" fill="none" stroke="#f3bfab" stroke-width="0.700"/>
<path d="M332.9,830.4C334.8,832.3 340.9,837.5 344.7,841.8C348.4,846.1 351.6,849.1 355.5,856C359.4,863 364.7,873.9 368,883.5C371.4,893.1 373.2,904.6 375.5,913.7C377.8,922.9 380.1,931.4 381.8,938.4C383.6,945.5 385.3,953.1 386,956" fill="none" stroke="#f3bfab" stroke-width="0.700"/>
<path d="M334.3,830.4C336.4,832.3 343,837.7 347.1,841.9C351.2,846.1 354.7,848.8 358.9,855.8C363.1,862.8 368.9,874.1 372.3,883.7C375.8,893.4 377.6,904.7 379.8,913.8C382.1,923 384.2,931.7 385.8,938.7C387.4,945.7 388.8,953.1 389.4,956" fill="none" stroke="#f3bfab" stroke-width="0.700"/>
<path d="M318.5,826C319.1,826.7 320.9,828.5 321.8,830C322.7,831.5 323.3,833.2 324,835C324.7,836.8 325.3,838.8 325.8,841C326.3,843.2 326.7,845.2 327.2,848C327.7,850.8 328.3,854.5 329,858C329.7,861.5 330.6,865 331.5,869C332.4,873 333.4,877.1 334.5,881.8C335.6,886.5 336.8,891.9 338,897C339.2,902.1 340.5,908 341.8,912.7C343.1,917.4 344.5,921 346,925C347.5,929 349.5,932.9 351,936.4C352.5,939.9 353.7,943 355,946C356.3,949 358.3,953.2 359,954.6" fill="none" stroke="#f0a993" stroke-width="5"/>
<path d="M321.8,830C322.2,830.8 323.3,833.2 324,835C324.7,836.8 325.3,838.8 325.8,841C326.3,843.2 326.7,845.2 327.2,848C327.7,850.8 328.3,854.5 329,858C329.7,861.5 330.6,865 331.5,869C332.4,873 333.4,877.1 334.5,881.8C335.6,886.5 336.8,891.9 338,897C339.2,902.1 340.5,908 341.8,912.7C343.1,917.4 344.5,921 346,925C347.5,929 349.5,932.9 351,936.4C352.5,939.9 353.7,943 355,946C356.3,949 358.3,953.2 359,954.6" fill="none" stroke="#fdeee7" stroke-width="1" transform="translate(3,0)"/>
</g>
</g>
<clipPath id="uSat"><rect x="300" y="765" width="109.400" height="195"/></clipPath>
<g clip-path="url(#uSat)"><rect x="300" y="765" width="110" height="195" fill="#fff"/>
<defs><clipPath id="uLc"><path d="M304,795.3C306.3,796.1 313,799.8 318,800.2C323,800.6 328.3,799.7 334,797.6C339.7,795.5 345.7,790.6 352,787.5C358.3,784.4 365.3,781.2 372,779.1C378.7,777 385.8,775.8 392,774.8C398.2,773.8 404.9,773.7 409.4,773.4C413.9,773.1 417.4,773.2 419,773.2L419,954.600L359,954.600C358.3,953.2 356.3,949 355,946C353.7,943 352.5,939.9 351,936.4C349.5,932.9 347.5,929 346,925C344.5,921 343.1,917.4 341.8,912.7C340.5,908 339.2,902.1 338,897C336.8,891.9 335.6,886.5 334.5,881.8C333.4,877.1 332.4,873 331.5,869C330.6,865 329.7,861.5 329,858C328.3,854.5 327.7,850.8 327.2,848C326.7,845.2 326.3,843.2 325.8,841C325.3,838.8 324.7,836.8 324,835C323.3,833.2 322.7,831.5 321.8,830C320.9,828.5 319.7,827.2 318.5,826C317.3,824.8 316,823.7 314.5,822.5C313,821.3 311.2,820.1 309.5,819C307.8,817.9 304.9,816.5 304,816Z"/></clipPath>
<linearGradient id="uLf" x1="0" y1="0" x2="0" y2="1"><stop offset="0" stop-color="#f2b09b"/><stop offset="0.500" stop-color="#f6c4b1"/><stop offset="1" stop-color="#f9d4c6"/></linearGradient></defs>
<g clip-path="url(#uLc)">
<rect x="300" y="768" width="120" height="190" fill="#ec8c76"/>
<path d="M304,809C306.7,809.9 314.8,812.4 320,814.5C325.2,816.6 330,819.3 335,821.5C340,823.7 345,826 350,827.5C355,829 359.2,829.9 365,830.5C370.8,831.1 377.6,831.4 385,831.3C392.4,831.2 403.7,830.2 409.4,830C415.1,829.8 417.4,829.8 419,829.8L419,956L401.800,956C401.3,948.8 400.2,924.5 399,912.7C397.8,901 396.4,894.6 394.5,885.5C392.6,876.4 390.1,865.6 387.3,858.2C384.6,850.8 381.2,845.3 378,841C374.8,836.7 372.3,834.9 368,832.5C363.7,830.1 357.5,828.5 352,826.5C346.5,824.5 343,823.4 335,820.5C327,817.6 309.2,810.9 304,809Z" fill="#e7705a"/>
<path d="M352,833C354.3,834.7 361.8,839 366,843C370.2,847 373.8,851.5 377,857C380.2,862.5 382.7,868.8 385,876C387.3,883.2 389.2,891.3 391,900C392.8,908.7 394.3,918.7 395.5,928C396.7,937.3 397.6,951.3 398,956" fill="none" stroke="#f0a08b" stroke-width="1.800" opacity="0.700"/>
<path d="M304,803.5C306.3,804.5 313,807.3 318,809.5C323,811.7 328.3,814.2 334,816.5C339.7,818.8 345.7,821.6 352,823.3C358.3,825 365.3,826.2 372,826.8C378.7,827.4 385.8,827.2 392,827C398.2,826.8 404.9,825.7 409.4,825.4C413.9,825.1 417.4,825.2 419,825.2L419,768L304,768Z" fill="url(#uLf)"/>
<path d="M304,798.3C306.3,799.1 313,802.5 318,803.5C323,804.6 328.3,804.9 334,804.4C339.7,803.9 345.7,801.7 352,800.4C358.3,799 365.3,797.4 372,796.3C378.7,795.1 385.8,794.3 392,793.6C398.2,792.9 404.9,792.4 409.4,792.1C413.9,791.8 417.4,792 419,791.9" fill="none" stroke="#fbe2d7" stroke-width="1.6"/>
<path d="M304,799.6C306.3,800.5 313,803.7 318,805C323,806.3 328.3,807.2 334,807.4C339.7,807.6 345.7,806.7 352,806.1C358.3,805.5 365.3,804.6 372,803.9C378.7,803.2 385.8,802.5 392,801.9C398.2,801.4 404.9,800.7 409.4,800.4C413.9,800.2 417.4,800.3 419,800.2" fill="none" stroke="#fce6dc" stroke-width="1.8"/>
<path d="M304,800.7C306.3,801.6 313,804.8 318,806.3C323,807.9 328.3,809.3 334,810.1C339.7,810.9 345.7,811 352,811.1C358.3,811.2 365.3,810.9 372,810.6C378.7,810.3 385.8,809.7 392,809.3C398.2,808.8 404.9,808 409.4,807.7C413.9,807.4 417.4,807.6 419,807.5" fill="none" stroke="#fce6dc" stroke-width="1.8"/>
<path d="M304,801.8C306.3,802.7 313,805.8 318,807.5C323,809.3 328.3,811.2 334,812.5C339.7,813.9 345.7,815.1 352,815.8C358.3,816.5 365.3,816.7 372,816.8C378.7,816.8 385.8,816.4 392,816C398.2,815.7 404.9,814.8 409.4,814.5C413.9,814.2 417.4,814.3 419,814.3" fill="none" stroke="#fce8de" stroke-width="1.8"/>
<path d="M304,802.8C306.3,803.8 313,806.7 318,808.8C323,810.8 328.3,813 334,815C339.7,816.9 345.7,819.1 352,820.4C358.3,821.8 365.3,822.6 372,823C378.7,823.4 385.8,823.1 392,822.8C398.2,822.5 404.9,821.5 409.4,821.2C413.9,820.9 417.4,821.1 419,821" fill="none" stroke="#fcebe3" stroke-width="2.2"/>
<path d="M304,799C306.3,799.9 313,803.2 318,804.4C323,805.6 328.3,806.2 334,806.1C339.7,806 345.7,804.5 352,803.6C358.3,802.7 365.3,801.5 372,800.6C378.7,799.7 385.8,798.9 392,798.3C398.2,797.7 404.9,797.1 409.4,796.8C413.9,796.5 417.4,796.6 419,796.6" fill="none" stroke="#f1b5a1" stroke-width="0.800"/>
<path d="M304,800.2C306.3,801.1 313,804.3 318,805.8C323,807.2 328.3,808.4 334,808.9C339.7,809.5 345.7,809.2 352,809C358.3,808.8 365.3,808.2 372,807.7C378.7,807.2 385.8,806.6 392,806.1C398.2,805.6 404.9,804.9 409.4,804.6C413.9,804.3 417.4,804.4 419,804.4" fill="none" stroke="#f1b5a1" stroke-width="0.800"/>
<path d="M304,801.3C306.3,802.2 313,805.3 318,807C323,808.7 328.3,810.3 334,811.4C339.7,812.5 345.7,813.2 352,813.6C358.3,814.1 365.3,814 372,813.9C378.7,813.8 385.8,813.3 392,812.9C398.2,812.5 404.9,811.7 409.4,811.4C413.9,811.1 417.4,811.2 419,811.2" fill="none" stroke="#f1b5a1" stroke-width="0.800"/>
<path d="M304,802.4C306.3,803.3 313,806.3 318,808.2C323,810.1 328.3,812.2 334,813.9C339.7,815.5 345.7,817.2 352,818.3C358.3,819.3 365.3,819.9 372,820.1C378.7,820.4 385.8,820 392,819.7C398.2,819.4 404.9,818.4 409.4,818.1C413.9,817.8 417.4,818 419,817.9" fill="none" stroke="#f1b5a1" stroke-width="0.800"/>
<path d="M304,795.3C306.3,796.1 313,799.8 318,800.2C323,800.6 328.3,799.7 334,797.6C339.7,795.5 345.7,790.6 352,787.5C358.3,784.4 365.3,781.2 372,779.1C378.7,777 385.8,775.8 392,774.8C398.2,773.8 404.9,773.7 409.4,773.4C413.9,773.1 417.4,773.2 419,773.2" fill="none" stroke="#eb9c86" stroke-width="1.300"/>
<path d="M318,824C320.3,824.8 327.4,826.7 332,829C336.6,831.3 342,835.3 345.5,838C349,840.7 350.6,842.5 353,845C355.4,847.5 357.8,850.4 360,852.7C362.2,855 364.5,856.9 366.5,859C368.5,861.1 370.4,862.8 371.8,865.5C373.2,868.2 373.9,871.4 375,875C376.1,878.6 377,882.8 378.2,887.3C379.4,891.8 380.8,897.1 382,902C383.2,906.9 384.4,911.7 385.5,916.4C386.6,921.1 387.6,925.8 388.5,930C389.4,934.2 390.1,937.5 391,941.8C391.9,946.1 393.2,953.6 393.6,956L359,956C358.3,953.2 356.3,949 355,946C353.7,943 352.5,939.9 351,936.4C349.5,932.9 347.5,929 346,925C344.5,921 343.1,917.4 341.8,912.7C340.5,908 339.2,902.1 338,897C336.8,891.9 335.6,886.5 334.5,881.8C333.4,877.1 332.4,873 331.5,869C330.6,865 329.7,861.5 329,858C328.3,854.5 327.7,850.8 327.2,848C326.7,845.2 326.3,843.2 325.8,841C325.3,838.8 324.7,836.8 324,835C323.3,833.2 322.7,831.5 321.8,830C320.9,828.5 319.7,827.2 318.5,826C317.3,824.8 315.2,823.1 314.5,822.5Z" fill="#f8d5c5"/>
<path d="M323.8,830.1C324.7,831.9 327.5,836.5 329.2,841.1C330.8,845.7 331.9,850.8 333.8,857.6C335.6,864.5 338.2,872.9 340.5,882.1C342.9,891.3 345.2,903.8 347.8,912.9C350.5,922 353.9,929.6 356.5,936.8C359.2,944 362.6,952.8 363.8,956" fill="none" stroke="#fdeee7" stroke-width="1.100" opacity="0.700"/>
<path d="M325.6,830.1C326.8,832 330.2,836.7 332.3,841.3C334.4,845.8 335.9,850.5 338.2,857.3C340.5,864.2 343.6,873.1 346.1,882.4C348.7,891.7 350.9,903.9 353.5,913.1C356.1,922.2 359.2,929.9 361.7,937.1C364.1,944.3 367.2,952.9 368.3,956" fill="none" stroke="#fdeee7" stroke-width="1.100" opacity="0.700"/>
<path d="M327.3,830.2C328.7,832.1 332.8,836.9 335.2,841.4C337.7,845.9 339.6,850.1 342.3,857C344.9,863.9 348.5,873.3 351.3,882.7C354,892 356.1,904.1 358.6,913.2C361.2,922.3 364.1,930.3 366.4,937.4C368.7,944.5 371.5,952.9 372.5,956" fill="none" stroke="#fdeee7" stroke-width="1.100" opacity="0.700"/>
<path d="M328.9,830.2C330.4,832.1 335,837.1 337.9,841.5C340.8,845.9 343,849.9 346,856.8C349,863.6 353.1,873.5 356,882.9C358.9,892.3 360.9,904.2 363.4,913.4C365.9,922.5 368.6,930.6 370.8,937.7C372.9,944.8 375.4,953 376.3,956" fill="none" stroke="#fdeee7" stroke-width="1.100" opacity="0.700"/>
<path d="M330.5,830.3C332.1,832.2 337.3,837.2 340.6,841.6C343.8,846 346.4,849.6 349.7,856.5C353.1,863.4 357.7,873.6 360.7,883.1C363.8,892.6 365.8,904.4 368.2,913.5C370.5,922.6 373.1,930.9 375.1,938C377.1,945.1 379.3,953 380.1,956" fill="none" stroke="#fdeee7" stroke-width="1.100" opacity="0.700"/>
<path d="M332,830.4C333.9,832.3 339.6,837.4 343.2,841.7C346.8,846 349.8,849.3 353.5,856.2C357.2,863.1 362.2,873.8 365.5,883.4C368.7,893 370.6,904.5 372.9,913.6C375.2,922.8 377.6,931.2 379.4,938.3C381.3,945.3 383.2,953 383.9,956" fill="none" stroke="#fdeee7" stroke-width="1.100" opacity="0.700"/>
<path d="M333.6,830.4C335.6,832.3 341.9,837.6 345.9,841.8C349.8,846.1 353.2,849 357.2,855.9C361.3,862.9 366.8,874 370.2,883.6C373.6,893.3 375.4,904.6 377.7,913.8C379.9,922.9 382.1,931.5 383.8,938.6C385.5,945.6 387.1,953.1 387.7,956" fill="none" stroke="#fdeee7" stroke-width="1.100" opacity="0.700"/>
<path d="M335,830.5C337.2,832.4 344,837.7 348.3,841.9C352.6,846.1 356.3,848.7 360.6,855.7C365,862.7 370.9,874.1 374.5,883.8C378,893.6 379.8,904.7 382,913.9C384.2,923.1 386.2,931.8 387.7,938.8C389.3,945.8 390.6,953.1 391.2,956" fill="none" stroke="#fdeee7" stroke-width="1.100" opacity="0.700"/>
<path d="M324.8,830.1C325.8,832 329,836.6 330.9,841.2C332.8,845.8 334,850.6 336.1,857.5C338.2,864.3 341.1,873 343.5,882.3C346,891.5 348.2,903.9 350.9,913C353.5,922.1 356.7,929.8 359.3,936.9C361.9,944.1 365.1,952.8 366.3,956" fill="none" stroke="#f3bfab" stroke-width="0.700"/>
<path d="M326.5,830.2C327.7,832 331.5,836.8 333.8,841.3C336.1,845.8 337.7,850.3 340.2,857.2C342.7,864 346.1,873.2 348.7,882.5C351.3,891.9 353.5,904 356.1,913.1C358.6,922.3 361.6,930.1 364,937.3C366.4,944.4 369.4,952.9 370.4,956" fill="none" stroke="#f3bfab" stroke-width="0.700"/>
<path d="M328.2,830.2C329.6,832.1 334,837 336.7,841.5C339.4,845.9 341.4,850 344.3,856.9C347.2,863.8 351,873.4 353.9,882.8C356.7,892.2 358.8,904.2 361.2,913.3C363.7,922.4 366.6,930.5 368.8,937.6C371,944.7 373.6,952.9 374.6,956" fill="none" stroke="#f3bfab" stroke-width="0.700"/>
<path d="M329.8,830.3C331.4,832.2 336.3,837.2 339.4,841.6C342.4,845.9 344.8,849.7 348,856.6C351.2,863.5 355.6,873.6 358.6,883C361.6,892.5 363.6,904.3 366,913.4C368.4,922.6 371.1,930.8 373.1,937.9C375.2,945 377.5,953 378.4,956" fill="none" stroke="#f3bfab" stroke-width="0.700"/>
<path d="M331.3,830.3C333.1,832.2 338.6,837.3 342,841.7C345.4,846 348.2,849.4 351.8,856.3C355.3,863.3 360.1,873.7 363.3,883.3C366.5,892.8 368.4,904.4 370.7,913.6C373.1,922.7 375.6,931.1 377.5,938.1C379.4,945.2 381.4,953 382.2,956" fill="none" stroke="#f3bfab" stroke-width="0.700"/>
<path d="M332.9,830.4C334.8,832.3 340.9,837.5 344.7,841.8C348.4,846.1 351.6,849.1 355.5,856C359.4,863 364.7,873.9 368,883.5C371.4,893.1 373.2,904.6 375.5,913.7C377.8,922.9 380.1,931.4 381.8,938.4C383.6,945.5 385.3,953.1 386,956" fill="none" stroke="#f3bfab" stroke-width="0.700"/>
<path d="M334.3,830.4C336.4,832.3 343,837.7 347.1,841.9C351.2,846.1 354.7,848.8 358.9,855.8C363.1,862.8 368.9,874.1 372.3,883.7C375.8,893.4 377.6,904.7 379.8,913.8C382.1,923 384.2,931.7 385.8,938.7C387.4,945.7 388.8,953.1 389.4,956" fill="none" stroke="#f3bfab" stroke-width="0.700"/>
<path d="M318.5,826C319.1,826.7 320.9,828.5 321.8,830C322.7,831.5 323.3,833.2 324,835C324.7,836.8 325.3,838.8 325.8,841C326.3,843.2 326.7,845.2 327.2,848C327.7,850.8 328.3,854.5 329,858C329.7,861.5 330.6,865 331.5,869C332.4,873 333.4,877.1 334.5,881.8C335.6,886.5 336.8,891.9 338,897C339.2,902.1 340.5,908 341.8,912.7C343.1,917.4 344.5,921 346,925C347.5,929 349.5,932.9 351,936.4C352.5,939.9 353.7,943 355,946C356.3,949 358.3,953.2 359,954.6" fill="none" stroke="#f0a993" stroke-width="5"/>
<path d="M321.8,830C322.2,830.8 323.3,833.2 324,835C324.7,836.8 325.3,838.8 325.8,841C326.3,843.2 326.7,845.2 327.2,848C327.7,850.8 328.3,854.5 329,858C329.7,861.5 330.6,865 331.5,869C332.4,873 333.4,877.1 334.5,881.8C335.6,886.5 336.8,891.9 338,897C339.2,902.1 340.5,908 341.8,912.7C343.1,917.4 344.5,921 346,925C347.5,929 349.5,932.9 351,936.4C352.5,939.9 353.7,943 355,946C356.3,949 358.3,953.2 359,954.6" fill="none" stroke="#fdeee7" stroke-width="1" transform="translate(3,0)"/>
</g>
</g>
<defs><linearGradient id="cath4" x1="0" y1="0" x2="0" y2="1"><stop offset="0" stop-color="#98bbc2"/><stop offset="0.300" stop-color="#e4f1f3"/><stop offset="0.700" stop-color="#c0dbe0"/><stop offset="1" stop-color="#8aaeb5"/></linearGradient></defs>
<g transform="translate(400.300,860.300) rotate(-12.300)">
<rect x="0" y="-4.200" width="160" height="8.400" fill="url(#cath4)" stroke="#6d9197" stroke-width="0.600"/>
<rect x="24" y="-2.600" width="31" height="5.400" fill="#a9b5b8"/>
<path d="M160,-4.200L160,4.200" stroke="#4d6a70" stroke-width="1.200"/>
</g>
<circle cx="371.700" cy="865.900" r="3.700" fill="#f4f6fb" stroke="#9aa3c4" stroke-width="0.900"/>
<path d="M400.500,860.500L384,863" stroke="#111" stroke-width="1.800" fill="none"/>
<polygon points="375.800,864.300 385.200,858.800 386.200,867" fill="#111"/>
<path d="M374.500,867.500L452.500,885.200" stroke="#1c1c1c" stroke-width="1.500" fill="none"/>
<path d="M361.400,910.300L456.500,910.300" stroke="#1c1c1c" stroke-width="1.500" fill="none"/>
<text x="461.400" y="891">Implanted zygote</text>
<text x="461.400" y="915">Endometrium</text>
<circle cx="110.8" cy="825.9" r="11.1" fill="#fff" stroke="#1a1a1a" stroke-width="1.5"/><text x="110.8" y="830.3" text-anchor="middle">4</text>
<text x="129.5" y="830">The zygote is then surgically</text>
<text x="129.5" y="843.9">implanted into the endometrium</text>
<text x="129.5" y="857.8">of the uterus. After successful</text>
<text x="129.5" y="871.7">implantation, the zygote should</text>
<text x="129.5" y="885.6">develop normally, as if it had been</text>
<text x="129.5" y="899.5">fertilized in the female’s oviducts.</text>
<g fill="#fff" stroke="#b9b9b9" stroke-width="0.800" opacity="0.900">
<ellipse cx="552.500" cy="932.500" rx="9.500" ry="8"/><path d="M546.500,938.500l-2.500,3.500l5,-1.800z"/>
<ellipse cx="561.500" cy="938" rx="8" ry="7"/><path d="M566,943.500l2.500,3l-4.500,-1.300z"/>
</g>
<g fill="#bdbdbd"><circle cx="549" cy="929.500" r="0.900"/><circle cx="555.500" cy="929.500" r="0.900"/><circle cx="558.800" cy="935.500" r="0.800"/><circle cx="564.200" cy="935.500" r="0.800"/></g>
<text x="573" y="942.300" style="font-family:'Noto Sans CJK SC','WenQuanYi Zen Hei',sans-serif;font-size:16.400px;font-weight:500;fill:#fff;stroke:#bdbdbd;stroke-width:1.300px;paint-order:stroke;stroke-linejoin:round">环行星球</text>
</g>
</svg>
</body></html>
